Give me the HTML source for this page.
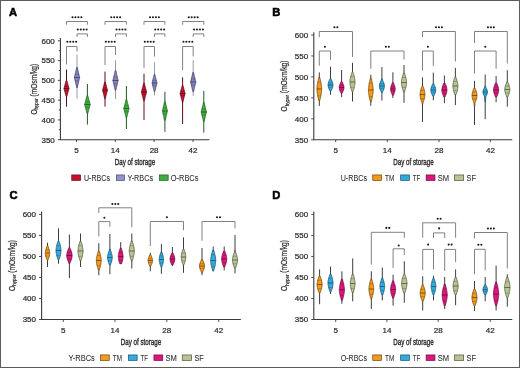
<!DOCTYPE html><html><head><meta charset="utf-8"><style>html,body{margin:0;padding:0;background:#fff;overflow:hidden;}svg{display:block;will-change:transform;}text{font-family:"Liberation Sans",sans-serif;stroke:#2b2b2b;stroke-width:0.22px;}</style></head><body>
<svg width="520" height="368" viewBox="0 0 520 368">
<rect x="0" y="0" width="520" height="368" fill="#fff"/>
<text x="9.00" y="16.20" font-size="11.2" text-anchor="start" font-weight="bold" fill="#000" style="stroke:#000;stroke-width:0.55px">A</text>
<path d="M60.40,38.00 L60.40,139.70 L209.40,139.70" fill="none" stroke="#3a3a3a" stroke-width="1.1"/>
<line x1="57.80" y1="139.70" x2="60.40" y2="139.70" stroke="#3a3a3a" stroke-width="0.9"/>
<text x="54.80" y="142.50" font-size="8" text-anchor="end" font-weight="normal" fill="#2b2b2b" >350</text>
<line x1="57.80" y1="119.92" x2="60.40" y2="119.92" stroke="#3a3a3a" stroke-width="0.9"/>
<text x="54.80" y="122.72" font-size="8" text-anchor="end" font-weight="normal" fill="#2b2b2b" >400</text>
<line x1="57.80" y1="100.14" x2="60.40" y2="100.14" stroke="#3a3a3a" stroke-width="0.9"/>
<text x="54.80" y="102.94" font-size="8" text-anchor="end" font-weight="normal" fill="#2b2b2b" >450</text>
<line x1="57.80" y1="80.36" x2="60.40" y2="80.36" stroke="#3a3a3a" stroke-width="0.9"/>
<text x="54.80" y="83.16" font-size="8" text-anchor="end" font-weight="normal" fill="#2b2b2b" >500</text>
<line x1="57.80" y1="60.58" x2="60.40" y2="60.58" stroke="#3a3a3a" stroke-width="0.9"/>
<text x="54.80" y="63.38" font-size="8" text-anchor="end" font-weight="normal" fill="#2b2b2b" >550</text>
<line x1="57.80" y1="40.80" x2="60.40" y2="40.80" stroke="#3a3a3a" stroke-width="0.9"/>
<text x="54.80" y="43.60" font-size="8" text-anchor="end" font-weight="normal" fill="#2b2b2b" >600</text>
<line x1="58.80" y1="129.81" x2="60.40" y2="129.81" stroke="#3a3a3a" stroke-width="0.9"/>
<line x1="58.80" y1="110.03" x2="60.40" y2="110.03" stroke="#3a3a3a" stroke-width="0.9"/>
<line x1="58.80" y1="90.25" x2="60.40" y2="90.25" stroke="#3a3a3a" stroke-width="0.9"/>
<line x1="58.80" y1="70.47" x2="60.40" y2="70.47" stroke="#3a3a3a" stroke-width="0.9"/>
<line x1="58.80" y1="50.69" x2="60.40" y2="50.69" stroke="#3a3a3a" stroke-width="0.9"/>
<line x1="76.50" y1="139.70" x2="76.50" y2="142.10" stroke="#3a3a3a" stroke-width="0.9"/>
<text x="76.50" y="152.70" font-size="8" text-anchor="middle" font-weight="normal" fill="#2b2b2b" >5</text>
<line x1="115.30" y1="139.70" x2="115.30" y2="142.10" stroke="#3a3a3a" stroke-width="0.9"/>
<text x="115.30" y="152.70" font-size="8" text-anchor="middle" font-weight="normal" fill="#2b2b2b" >14</text>
<line x1="154.10" y1="139.70" x2="154.10" y2="142.10" stroke="#3a3a3a" stroke-width="0.9"/>
<text x="154.10" y="152.70" font-size="8" text-anchor="middle" font-weight="normal" fill="#2b2b2b" >28</text>
<line x1="193.00" y1="139.70" x2="193.00" y2="142.10" stroke="#3a3a3a" stroke-width="0.9"/>
<text x="193.00" y="152.70" font-size="8" text-anchor="middle" font-weight="normal" fill="#2b2b2b" >42</text>
<text transform="translate(36.50,89.20) rotate(-90) scale(0.72,1)" text-anchor="middle" font-size="9.2" fill="#2b2b2b">O<tspan font-size="6.2" dy="1.9">hyper</tspan><tspan dy="-1.9"> (mOsm/kg)</tspan></text>
<text x="114.80" y="165.30" font-size="9.8" font-weight="normal" style="stroke-width:0.4px" fill="#2b2b2b" textLength="40.4" lengthAdjust="spacingAndGlyphs">Day of storage</text>
<text x="272.30" y="16.30" font-size="11.2" text-anchor="start" font-weight="bold" fill="#000" style="stroke:#000;stroke-width:0.55px">B</text>
<path d="M313.80,32.20 L313.80,139.80 L512.30,139.80" fill="none" stroke="#3a3a3a" stroke-width="1.1"/>
<line x1="311.20" y1="139.80" x2="313.80" y2="139.80" stroke="#3a3a3a" stroke-width="0.9"/>
<text x="308.20" y="142.60" font-size="8" text-anchor="end" font-weight="normal" fill="#2b2b2b" >350</text>
<line x1="311.20" y1="118.84" x2="313.80" y2="118.84" stroke="#3a3a3a" stroke-width="0.9"/>
<text x="308.20" y="121.64" font-size="8" text-anchor="end" font-weight="normal" fill="#2b2b2b" >400</text>
<line x1="311.20" y1="97.88" x2="313.80" y2="97.88" stroke="#3a3a3a" stroke-width="0.9"/>
<text x="308.20" y="100.68" font-size="8" text-anchor="end" font-weight="normal" fill="#2b2b2b" >450</text>
<line x1="311.20" y1="76.92" x2="313.80" y2="76.92" stroke="#3a3a3a" stroke-width="0.9"/>
<text x="308.20" y="79.72" font-size="8" text-anchor="end" font-weight="normal" fill="#2b2b2b" >500</text>
<line x1="311.20" y1="55.96" x2="313.80" y2="55.96" stroke="#3a3a3a" stroke-width="0.9"/>
<text x="308.20" y="58.76" font-size="8" text-anchor="end" font-weight="normal" fill="#2b2b2b" >550</text>
<line x1="311.20" y1="35.00" x2="313.80" y2="35.00" stroke="#3a3a3a" stroke-width="0.9"/>
<text x="308.20" y="37.80" font-size="8" text-anchor="end" font-weight="normal" fill="#2b2b2b" >600</text>
<line x1="335.70" y1="139.80" x2="335.70" y2="142.20" stroke="#3a3a3a" stroke-width="0.9"/>
<text x="335.70" y="152.80" font-size="8" text-anchor="middle" font-weight="normal" fill="#2b2b2b" >5</text>
<line x1="387.30" y1="139.80" x2="387.30" y2="142.20" stroke="#3a3a3a" stroke-width="0.9"/>
<text x="387.30" y="152.80" font-size="8" text-anchor="middle" font-weight="normal" fill="#2b2b2b" >14</text>
<line x1="439.00" y1="139.80" x2="439.00" y2="142.20" stroke="#3a3a3a" stroke-width="0.9"/>
<text x="439.00" y="152.80" font-size="8" text-anchor="middle" font-weight="normal" fill="#2b2b2b" >28</text>
<line x1="490.40" y1="139.80" x2="490.40" y2="142.20" stroke="#3a3a3a" stroke-width="0.9"/>
<text x="490.40" y="152.80" font-size="8" text-anchor="middle" font-weight="normal" fill="#2b2b2b" >42</text>
<text transform="translate(287.20,86.00) rotate(-90) scale(0.72,1)" text-anchor="middle" font-size="9.2" fill="#2b2b2b">O<tspan font-size="6.2" dy="1.9">hyper</tspan><tspan dy="-1.9"> (mOsm/kg)</tspan></text>
<text x="393.30" y="165.30" font-size="9.8" font-weight="normal" style="stroke-width:0.4px" fill="#2b2b2b" textLength="40.4" lengthAdjust="spacingAndGlyphs">Day of storage</text>
<text x="9.60" y="198.70" font-size="11.2" text-anchor="start" font-weight="bold" fill="#000" style="stroke:#000;stroke-width:0.55px">C</text>
<path d="M41.60,211.60 L41.60,319.50 L240.90,319.50" fill="none" stroke="#3a3a3a" stroke-width="1.1"/>
<line x1="39.00" y1="319.50" x2="41.60" y2="319.50" stroke="#3a3a3a" stroke-width="0.9"/>
<text x="36.00" y="322.30" font-size="8" text-anchor="end" font-weight="normal" fill="#2b2b2b" >350</text>
<line x1="39.00" y1="298.48" x2="41.60" y2="298.48" stroke="#3a3a3a" stroke-width="0.9"/>
<text x="36.00" y="301.28" font-size="8" text-anchor="end" font-weight="normal" fill="#2b2b2b" >400</text>
<line x1="39.00" y1="277.46" x2="41.60" y2="277.46" stroke="#3a3a3a" stroke-width="0.9"/>
<text x="36.00" y="280.26" font-size="8" text-anchor="end" font-weight="normal" fill="#2b2b2b" >450</text>
<line x1="39.00" y1="256.44" x2="41.60" y2="256.44" stroke="#3a3a3a" stroke-width="0.9"/>
<text x="36.00" y="259.24" font-size="8" text-anchor="end" font-weight="normal" fill="#2b2b2b" >500</text>
<line x1="39.00" y1="235.42" x2="41.60" y2="235.42" stroke="#3a3a3a" stroke-width="0.9"/>
<text x="36.00" y="238.22" font-size="8" text-anchor="end" font-weight="normal" fill="#2b2b2b" >550</text>
<line x1="39.00" y1="214.40" x2="41.60" y2="214.40" stroke="#3a3a3a" stroke-width="0.9"/>
<text x="36.00" y="217.20" font-size="8" text-anchor="end" font-weight="normal" fill="#2b2b2b" >600</text>
<line x1="63.30" y1="319.50" x2="63.30" y2="321.90" stroke="#3a3a3a" stroke-width="0.9"/>
<text x="63.30" y="332.50" font-size="8" text-anchor="middle" font-weight="normal" fill="#2b2b2b" >5</text>
<line x1="115.00" y1="319.50" x2="115.00" y2="321.90" stroke="#3a3a3a" stroke-width="0.9"/>
<text x="115.00" y="332.50" font-size="8" text-anchor="middle" font-weight="normal" fill="#2b2b2b" >14</text>
<line x1="166.80" y1="319.50" x2="166.80" y2="321.90" stroke="#3a3a3a" stroke-width="0.9"/>
<text x="166.80" y="332.50" font-size="8" text-anchor="middle" font-weight="normal" fill="#2b2b2b" >28</text>
<line x1="218.70" y1="319.50" x2="218.70" y2="321.90" stroke="#3a3a3a" stroke-width="0.9"/>
<text x="218.70" y="332.50" font-size="8" text-anchor="middle" font-weight="normal" fill="#2b2b2b" >42</text>
<text transform="translate(14.50,265.50) rotate(-90) scale(0.72,1)" text-anchor="middle" font-size="9.2" fill="#2b2b2b">O<tspan font-size="6.2" dy="1.9">hyper</tspan><tspan dy="-1.9"> (mOsm/kg)</tspan></text>
<text x="120.80" y="345.30" font-size="9.8" font-weight="normal" style="stroke-width:0.4px" fill="#2b2b2b" textLength="40.4" lengthAdjust="spacingAndGlyphs">Day of storage</text>
<text x="272.30" y="198.60" font-size="11.2" text-anchor="start" font-weight="bold" fill="#000" style="stroke:#000;stroke-width:0.55px">D</text>
<path d="M313.80,211.60 L313.80,319.50 L512.30,319.50" fill="none" stroke="#3a3a3a" stroke-width="1.1"/>
<line x1="311.20" y1="319.50" x2="313.80" y2="319.50" stroke="#3a3a3a" stroke-width="0.9"/>
<text x="308.20" y="322.30" font-size="8" text-anchor="end" font-weight="normal" fill="#2b2b2b" >350</text>
<line x1="311.20" y1="298.48" x2="313.80" y2="298.48" stroke="#3a3a3a" stroke-width="0.9"/>
<text x="308.20" y="301.28" font-size="8" text-anchor="end" font-weight="normal" fill="#2b2b2b" >400</text>
<line x1="311.20" y1="277.46" x2="313.80" y2="277.46" stroke="#3a3a3a" stroke-width="0.9"/>
<text x="308.20" y="280.26" font-size="8" text-anchor="end" font-weight="normal" fill="#2b2b2b" >450</text>
<line x1="311.20" y1="256.44" x2="313.80" y2="256.44" stroke="#3a3a3a" stroke-width="0.9"/>
<text x="308.20" y="259.24" font-size="8" text-anchor="end" font-weight="normal" fill="#2b2b2b" >500</text>
<line x1="311.20" y1="235.42" x2="313.80" y2="235.42" stroke="#3a3a3a" stroke-width="0.9"/>
<text x="308.20" y="238.22" font-size="8" text-anchor="end" font-weight="normal" fill="#2b2b2b" >550</text>
<line x1="311.20" y1="214.40" x2="313.80" y2="214.40" stroke="#3a3a3a" stroke-width="0.9"/>
<text x="308.20" y="217.20" font-size="8" text-anchor="end" font-weight="normal" fill="#2b2b2b" >600</text>
<line x1="335.70" y1="319.50" x2="335.70" y2="321.90" stroke="#3a3a3a" stroke-width="0.9"/>
<text x="335.70" y="332.50" font-size="8" text-anchor="middle" font-weight="normal" fill="#2b2b2b" >5</text>
<line x1="386.90" y1="319.50" x2="386.90" y2="321.90" stroke="#3a3a3a" stroke-width="0.9"/>
<text x="386.90" y="332.50" font-size="8" text-anchor="middle" font-weight="normal" fill="#2b2b2b" >14</text>
<line x1="438.20" y1="319.50" x2="438.20" y2="321.90" stroke="#3a3a3a" stroke-width="0.9"/>
<text x="438.20" y="332.50" font-size="8" text-anchor="middle" font-weight="normal" fill="#2b2b2b" >28</text>
<line x1="490.30" y1="319.50" x2="490.30" y2="321.90" stroke="#3a3a3a" stroke-width="0.9"/>
<text x="490.30" y="332.50" font-size="8" text-anchor="middle" font-weight="normal" fill="#2b2b2b" >42</text>
<text transform="translate(286.70,265.50) rotate(-90) scale(0.72,1)" text-anchor="middle" font-size="9.2" fill="#2b2b2b">O<tspan font-size="6.2" dy="1.9">hyper</tspan><tspan dy="-1.9"> (mOsm/kg)</tspan></text>
<text x="393.30" y="345.30" font-size="9.8" font-weight="normal" style="stroke-width:0.4px" fill="#2b2b2b" textLength="40.4" lengthAdjust="spacingAndGlyphs">Day of storage</text>
<path d="M66.50,24.70 L66.50,21.50 L87.40,21.50 L87.40,24.70" fill="none" stroke="#7a7a7a" stroke-width="0.95"/>
<circle cx="72.53" cy="17.30" r="1.05" fill="#1a1a1a"/>
<circle cx="75.48" cy="17.30" r="1.05" fill="#1a1a1a"/>
<circle cx="78.43" cy="17.30" r="1.05" fill="#1a1a1a"/>
<circle cx="81.38" cy="17.30" r="1.05" fill="#1a1a1a"/>
<path d="M77.00,36.90 L77.00,33.90 L87.40,33.90 L87.40,36.90" fill="none" stroke="#7a7a7a" stroke-width="0.95"/>
<circle cx="77.78" cy="29.50" r="1.05" fill="#1a1a1a"/>
<circle cx="80.73" cy="29.50" r="1.05" fill="#1a1a1a"/>
<circle cx="83.68" cy="29.50" r="1.05" fill="#1a1a1a"/>
<circle cx="86.62" cy="29.50" r="1.05" fill="#1a1a1a"/>
<path d="M66.50,64.40 L66.50,46.50 L77.00,46.50 L77.00,51.40" fill="none" stroke="#7a7a7a" stroke-width="0.95"/>
<circle cx="67.33" cy="41.80" r="1.05" fill="#1a1a1a"/>
<circle cx="70.28" cy="41.80" r="1.05" fill="#1a1a1a"/>
<circle cx="73.23" cy="41.80" r="1.05" fill="#1a1a1a"/>
<circle cx="76.18" cy="41.80" r="1.05" fill="#1a1a1a"/>
<path d="M105.00,24.70 L105.00,21.50 L126.40,21.50 L126.40,24.70" fill="none" stroke="#7a7a7a" stroke-width="0.95"/>
<circle cx="111.28" cy="17.30" r="1.05" fill="#1a1a1a"/>
<circle cx="114.23" cy="17.30" r="1.05" fill="#1a1a1a"/>
<circle cx="117.18" cy="17.30" r="1.05" fill="#1a1a1a"/>
<circle cx="120.12" cy="17.30" r="1.05" fill="#1a1a1a"/>
<path d="M115.50,36.90 L115.50,33.90 L126.40,33.90 L126.40,36.90" fill="none" stroke="#7a7a7a" stroke-width="0.95"/>
<circle cx="116.53" cy="29.50" r="1.05" fill="#1a1a1a"/>
<circle cx="119.48" cy="29.50" r="1.05" fill="#1a1a1a"/>
<circle cx="122.43" cy="29.50" r="1.05" fill="#1a1a1a"/>
<circle cx="125.38" cy="29.50" r="1.05" fill="#1a1a1a"/>
<path d="M105.00,65.00 L105.00,46.50 L115.50,46.50 L115.50,55.00" fill="none" stroke="#7a7a7a" stroke-width="0.95"/>
<circle cx="105.83" cy="41.80" r="1.05" fill="#1a1a1a"/>
<circle cx="108.78" cy="41.80" r="1.05" fill="#1a1a1a"/>
<circle cx="111.73" cy="41.80" r="1.05" fill="#1a1a1a"/>
<circle cx="114.68" cy="41.80" r="1.05" fill="#1a1a1a"/>
<path d="M144.00,24.70 L144.00,21.50 L164.90,21.50 L164.90,24.70" fill="none" stroke="#7a7a7a" stroke-width="0.95"/>
<circle cx="150.02" cy="17.30" r="1.05" fill="#1a1a1a"/>
<circle cx="152.97" cy="17.30" r="1.05" fill="#1a1a1a"/>
<circle cx="155.92" cy="17.30" r="1.05" fill="#1a1a1a"/>
<circle cx="158.87" cy="17.30" r="1.05" fill="#1a1a1a"/>
<path d="M154.50,36.90 L154.50,33.90 L164.90,33.90 L164.90,36.90" fill="none" stroke="#7a7a7a" stroke-width="0.95"/>
<circle cx="155.27" cy="29.50" r="1.05" fill="#1a1a1a"/>
<circle cx="158.22" cy="29.50" r="1.05" fill="#1a1a1a"/>
<circle cx="161.17" cy="29.50" r="1.05" fill="#1a1a1a"/>
<circle cx="164.12" cy="29.50" r="1.05" fill="#1a1a1a"/>
<path d="M144.00,68.00 L144.00,46.50 L154.50,46.50 L154.50,56.50" fill="none" stroke="#7a7a7a" stroke-width="0.95"/>
<circle cx="144.82" cy="41.80" r="1.05" fill="#1a1a1a"/>
<circle cx="147.77" cy="41.80" r="1.05" fill="#1a1a1a"/>
<circle cx="150.72" cy="41.80" r="1.05" fill="#1a1a1a"/>
<circle cx="153.67" cy="41.80" r="1.05" fill="#1a1a1a"/>
<path d="M182.60,24.70 L182.60,21.50 L203.80,21.50 L203.80,24.70" fill="none" stroke="#7a7a7a" stroke-width="0.95"/>
<circle cx="188.77" cy="17.30" r="1.05" fill="#1a1a1a"/>
<circle cx="191.72" cy="17.30" r="1.05" fill="#1a1a1a"/>
<circle cx="194.67" cy="17.30" r="1.05" fill="#1a1a1a"/>
<circle cx="197.62" cy="17.30" r="1.05" fill="#1a1a1a"/>
<path d="M193.20,36.90 L193.20,33.90 L203.80,33.90 L203.80,36.90" fill="none" stroke="#7a7a7a" stroke-width="0.95"/>
<circle cx="194.07" cy="29.50" r="1.05" fill="#1a1a1a"/>
<circle cx="197.02" cy="29.50" r="1.05" fill="#1a1a1a"/>
<circle cx="199.97" cy="29.50" r="1.05" fill="#1a1a1a"/>
<circle cx="202.92" cy="29.50" r="1.05" fill="#1a1a1a"/>
<path d="M182.60,70.00 L182.60,46.50 L193.20,46.50 L193.20,56.50" fill="none" stroke="#7a7a7a" stroke-width="0.95"/>
<circle cx="183.47" cy="41.80" r="1.05" fill="#1a1a1a"/>
<circle cx="186.42" cy="41.80" r="1.05" fill="#1a1a1a"/>
<circle cx="189.37" cy="41.80" r="1.05" fill="#1a1a1a"/>
<circle cx="192.32" cy="41.80" r="1.05" fill="#1a1a1a"/>
<path d="M319.30,37.30 L319.30,31.50 L352.50,31.50 L352.50,57.00" fill="none" stroke="#7a7a7a" stroke-width="0.95"/>
<circle cx="334.42" cy="27.20" r="1.05" fill="#1a1a1a"/>
<circle cx="337.37" cy="27.20" r="1.05" fill="#1a1a1a"/>
<path d="M319.30,65.70 L319.30,51.00 L330.50,51.00 L330.50,59.90" fill="none" stroke="#7a7a7a" stroke-width="0.95"/>
<circle cx="324.90" cy="46.70" r="1.05" fill="#1a1a1a"/>
<path d="M370.80,68.80 L370.80,51.00 L404.00,51.00 L404.00,59.60" fill="none" stroke="#7a7a7a" stroke-width="0.95"/>
<circle cx="385.92" cy="46.80" r="1.05" fill="#1a1a1a"/>
<circle cx="388.87" cy="46.80" r="1.05" fill="#1a1a1a"/>
<path d="M422.50,37.00 L422.50,31.50 L455.40,31.50 L455.40,61.50" fill="none" stroke="#7a7a7a" stroke-width="0.95"/>
<circle cx="436.00" cy="27.20" r="1.05" fill="#1a1a1a"/>
<circle cx="438.95" cy="27.20" r="1.05" fill="#1a1a1a"/>
<circle cx="441.90" cy="27.20" r="1.05" fill="#1a1a1a"/>
<path d="M422.50,70.70 L422.50,51.00 L433.30,51.00 L433.30,65.90" fill="none" stroke="#7a7a7a" stroke-width="0.95"/>
<circle cx="427.90" cy="46.70" r="1.05" fill="#1a1a1a"/>
<path d="M474.50,43.00 L474.50,31.50 L507.30,31.50 L507.30,63.50" fill="none" stroke="#7a7a7a" stroke-width="0.95"/>
<circle cx="487.95" cy="27.20" r="1.05" fill="#1a1a1a"/>
<circle cx="490.90" cy="27.20" r="1.05" fill="#1a1a1a"/>
<circle cx="493.85" cy="27.20" r="1.05" fill="#1a1a1a"/>
<path d="M474.50,73.60 L474.50,51.00 L496.10,51.00 L496.10,68.75" fill="none" stroke="#7a7a7a" stroke-width="0.95"/>
<circle cx="485.30" cy="46.70" r="1.05" fill="#1a1a1a"/>
<path d="M98.80,212.90 L98.80,207.80 L131.80,207.80 L131.80,227.30" fill="none" stroke="#7a7a7a" stroke-width="0.95"/>
<circle cx="112.35" cy="204.00" r="1.05" fill="#1a1a1a"/>
<circle cx="115.30" cy="204.00" r="1.05" fill="#1a1a1a"/>
<circle cx="118.25" cy="204.00" r="1.05" fill="#1a1a1a"/>
<path d="M98.80,236.40 L98.80,221.60 L109.90,221.60 L109.90,226.80" fill="none" stroke="#7a7a7a" stroke-width="0.95"/>
<circle cx="104.35" cy="217.70" r="1.05" fill="#1a1a1a"/>
<path d="M150.30,246.00 L150.30,221.50 L183.50,221.50 L183.50,230.20" fill="none" stroke="#7a7a7a" stroke-width="0.95"/>
<circle cx="166.90" cy="217.20" r="1.05" fill="#1a1a1a"/>
<path d="M202.00,240.80 L202.00,221.50 L235.00,221.50 L235.00,228.30" fill="none" stroke="#7a7a7a" stroke-width="0.95"/>
<circle cx="217.03" cy="217.20" r="1.05" fill="#1a1a1a"/>
<circle cx="219.97" cy="217.20" r="1.05" fill="#1a1a1a"/>
<path d="M371.30,264.60 L371.30,232.30 L404.30,232.30 L404.30,237.80" fill="none" stroke="#7a7a7a" stroke-width="0.95"/>
<circle cx="386.32" cy="227.90" r="1.05" fill="#1a1a1a"/>
<circle cx="389.27" cy="227.90" r="1.05" fill="#1a1a1a"/>
<path d="M393.10,268.00 L393.10,248.80 L404.30,248.80 L404.30,255.00" fill="none" stroke="#7a7a7a" stroke-width="0.95"/>
<circle cx="398.70" cy="245.50" r="1.05" fill="#1a1a1a"/>
<path d="M422.70,237.70 L422.70,222.80 L455.60,222.80 L455.60,237.70" fill="none" stroke="#7a7a7a" stroke-width="0.95"/>
<circle cx="437.67" cy="218.75" r="1.05" fill="#1a1a1a"/>
<circle cx="440.62" cy="218.75" r="1.05" fill="#1a1a1a"/>
<path d="M433.50,238.00 L433.50,232.90 L444.70,232.90 L444.70,238.00" fill="none" stroke="#7a7a7a" stroke-width="0.95"/>
<circle cx="439.10" cy="228.40" r="1.05" fill="#1a1a1a"/>
<path d="M422.70,270.00 L422.70,249.40 L433.50,249.40 L433.50,269.40" fill="none" stroke="#7a7a7a" stroke-width="0.95"/>
<circle cx="428.10" cy="244.60" r="1.05" fill="#1a1a1a"/>
<path d="M444.70,270.90 L444.70,249.40 L455.60,249.40 L455.60,262.20" fill="none" stroke="#7a7a7a" stroke-width="0.95"/>
<circle cx="448.67" cy="244.60" r="1.05" fill="#1a1a1a"/>
<circle cx="451.62" cy="244.60" r="1.05" fill="#1a1a1a"/>
<path d="M474.50,238.30 L474.50,232.50 L507.30,232.50 L507.30,268.50" fill="none" stroke="#7a7a7a" stroke-width="0.95"/>
<circle cx="487.95" cy="228.50" r="1.05" fill="#1a1a1a"/>
<circle cx="490.90" cy="228.50" r="1.05" fill="#1a1a1a"/>
<circle cx="493.85" cy="228.50" r="1.05" fill="#1a1a1a"/>
<path d="M474.50,274.20 L474.50,249.30 L485.20,249.30 L485.20,270.40" fill="none" stroke="#7a7a7a" stroke-width="0.95"/>
<circle cx="478.38" cy="244.80" r="1.05" fill="#1a1a1a"/>
<circle cx="481.32" cy="244.80" r="1.05" fill="#1a1a1a"/>
<line x1="66.50" y1="69.50" x2="66.50" y2="106.60" stroke="#5a0a14" stroke-width="1.0"/>
<polygon points="66.89,80.50 67.02,81.00 67.15,81.50 67.28,82.00 67.41,82.50 67.54,83.00 67.68,83.50 67.81,84.00 67.95,84.50 68.08,85.00 68.22,85.50 68.35,86.00 68.49,86.50 68.63,87.00 68.78,87.50 68.92,88.00 69.08,88.50 68.92,89.00 68.78,89.50 68.63,90.00 68.49,90.50 68.35,91.00 68.22,91.50 68.08,92.00 67.95,92.50 67.81,93.00 67.68,93.50 67.54,94.00 67.41,94.50 67.28,95.00 67.15,95.50 67.02,96.00 66.89,96.50 66.11,96.50 65.98,96.00 65.85,95.50 65.72,95.00 65.59,94.50 65.46,94.00 65.32,93.50 65.19,93.00 65.05,92.50 64.92,92.00 64.78,91.50 64.65,91.00 64.51,90.50 64.37,90.00 64.22,89.50 64.08,89.00 63.92,88.50 64.08,88.00 64.22,87.50 64.37,87.00 64.51,86.50 64.65,86.00 64.78,85.50 64.92,85.00 65.05,84.50 65.19,84.00 65.32,83.50 65.46,83.00 65.59,82.50 65.72,82.00 65.85,81.50 65.98,81.00 66.11,80.50" fill="#c8102e" stroke="#5a0a14" stroke-width="0.75" stroke-linejoin="round"/>
<line x1="63.92" y1="88.50" x2="69.08" y2="88.50" stroke="#5a0a14" stroke-width="0.8"/>
<line x1="64.51" y1="86.50" x2="68.49" y2="86.50" stroke="#5a0a14" stroke-width="0.6" stroke-opacity="0.85" stroke-dasharray="1.2,0.5"/>
<line x1="64.51" y1="90.50" x2="68.49" y2="90.50" stroke="#5a0a14" stroke-width="0.6" stroke-opacity="0.85" stroke-dasharray="1.2,0.5"/>
<line x1="77.00" y1="54.50" x2="77.00" y2="98.50" stroke="#9a9aa8" stroke-width="1.0"/>
<polygon points="77.33,67.50 77.44,68.00 77.55,68.50 77.67,69.00 77.78,69.50 77.89,70.00 78.00,70.50 78.12,71.00 78.23,71.50 78.34,72.00 78.46,72.50 78.57,73.00 78.69,73.50 78.80,74.00 78.92,74.50 79.04,75.00 79.16,75.50 79.28,76.00 79.40,76.50 79.53,77.00 79.67,77.50 79.53,78.00 79.40,78.50 79.28,79.00 79.16,79.50 79.04,80.00 78.92,80.50 78.80,81.00 78.69,81.50 78.57,82.00 78.46,82.50 78.34,83.00 78.23,83.50 78.12,84.00 78.00,84.50 77.89,85.00 77.78,85.50 77.67,86.00 77.55,86.50 77.44,87.00 77.33,87.50 76.67,87.50 76.56,87.00 76.45,86.50 76.33,86.00 76.22,85.50 76.11,85.00 76.00,84.50 75.88,84.00 75.77,83.50 75.66,83.00 75.54,82.50 75.43,82.00 75.31,81.50 75.20,81.00 75.08,80.50 74.96,80.00 74.84,79.50 74.72,79.00 74.60,78.50 74.47,78.00 74.33,77.50 74.47,77.00 74.60,76.50 74.72,76.00 74.84,75.50 74.96,75.00 75.08,74.50 75.20,74.00 75.31,73.50 75.43,73.00 75.54,72.50 75.66,72.00 75.77,71.50 75.88,71.00 76.00,70.50 76.11,70.00 76.22,69.50 76.33,69.00 76.45,68.50 76.56,68.00 76.67,67.50" fill="#8585bd" stroke="#38385e" stroke-width="0.75" stroke-linejoin="round"/>
<line x1="74.33" y1="77.50" x2="79.67" y2="77.50" stroke="#38385e" stroke-width="0.8"/>
<line x1="75.18" y1="74.08" x2="78.82" y2="74.08" stroke="#38385e" stroke-width="0.6" stroke-opacity="0.85" stroke-dasharray="1.2,0.5"/>
<line x1="75.18" y1="80.92" x2="78.82" y2="80.92" stroke="#38385e" stroke-width="0.6" stroke-opacity="0.85" stroke-dasharray="1.2,0.5"/>
<line x1="87.40" y1="84.00" x2="87.40" y2="124.60" stroke="#1d5a1d" stroke-width="1.0"/>
<polygon points="87.79,95.50 87.92,96.00 88.05,96.50 88.18,97.00 88.31,97.50 88.44,98.00 88.57,98.50 88.70,99.00 88.84,99.50 88.97,100.00 89.10,100.50 89.24,101.00 89.37,101.50 89.51,102.00 89.65,102.50 89.79,103.00 89.93,103.50 90.08,104.00 90.24,104.50 90.08,105.00 89.93,105.50 89.79,106.00 89.65,106.50 89.51,107.00 89.37,107.50 89.24,108.00 89.10,108.50 88.97,109.00 88.84,109.50 88.70,110.00 88.57,110.50 88.44,111.00 88.31,111.50 88.18,112.00 88.05,112.50 87.92,113.00 87.79,113.50 87.01,113.50 86.88,113.00 86.75,112.50 86.62,112.00 86.49,111.50 86.36,111.00 86.23,110.50 86.10,110.00 85.96,109.50 85.83,109.00 85.70,108.50 85.56,108.00 85.43,107.50 85.29,107.00 85.15,106.50 85.01,106.00 84.87,105.50 84.72,105.00 84.56,104.50 84.72,104.00 84.87,103.50 85.01,103.00 85.15,102.50 85.29,102.00 85.43,101.50 85.56,101.00 85.70,100.50 85.83,100.00 85.96,99.50 86.10,99.00 86.23,98.50 86.36,98.00 86.49,97.50 86.62,97.00 86.75,96.50 86.88,96.00 87.01,95.50" fill="#3fae3f" stroke="#1d5a1d" stroke-width="0.75" stroke-linejoin="round"/>
<line x1="84.56" y1="104.50" x2="90.24" y2="104.50" stroke="#1d5a1d" stroke-width="0.8"/>
<line x1="85.33" y1="101.84" x2="89.47" y2="101.84" stroke="#1d5a1d" stroke-width="0.6" stroke-opacity="0.85" stroke-dasharray="1.2,0.5"/>
<line x1="85.33" y1="107.16" x2="89.47" y2="107.16" stroke="#1d5a1d" stroke-width="0.6" stroke-opacity="0.85" stroke-dasharray="1.2,0.5"/>
<line x1="105.00" y1="71.60" x2="105.00" y2="106.60" stroke="#5a0a14" stroke-width="1.0"/>
<polygon points="105.39,82.10 105.51,82.60 105.64,83.10 105.76,83.60 105.88,84.10 106.01,84.60 106.13,85.10 106.26,85.60 106.39,86.10 106.51,86.60 106.64,87.10 106.77,87.60 106.90,88.10 107.03,88.60 107.17,89.10 107.30,89.60 107.45,90.10 107.39,90.60 107.25,91.10 107.11,91.60 106.98,92.10 106.85,92.60 106.72,93.10 106.59,93.60 106.46,94.10 106.34,94.60 106.21,95.10 106.08,95.60 105.96,96.10 105.83,96.60 105.71,97.10 105.59,97.60 105.46,98.10 105.34,98.60 104.66,98.60 104.54,98.10 104.41,97.60 104.29,97.10 104.17,96.60 104.04,96.10 103.92,95.60 103.79,95.10 103.66,94.60 103.54,94.10 103.41,93.60 103.28,93.10 103.15,92.60 103.02,92.10 102.89,91.60 102.75,91.10 102.61,90.60 102.55,90.10 102.70,89.60 102.83,89.10 102.97,88.60 103.10,88.10 103.23,87.60 103.36,87.10 103.49,86.60 103.61,86.10 103.74,85.60 103.87,85.10 103.99,84.60 104.12,84.10 104.24,83.60 104.36,83.10 104.49,82.60 104.61,82.10" fill="#c8102e" stroke="#5a0a14" stroke-width="0.75" stroke-linejoin="round"/>
<line x1="102.51" y1="90.25" x2="107.49" y2="90.25" stroke="#5a0a14" stroke-width="0.8"/>
<line x1="103.08" y1="88.16" x2="106.92" y2="88.16" stroke="#5a0a14" stroke-width="0.6" stroke-opacity="0.85" stroke-dasharray="1.2,0.5"/>
<line x1="103.08" y1="92.34" x2="106.92" y2="92.34" stroke="#5a0a14" stroke-width="0.6" stroke-opacity="0.85" stroke-dasharray="1.2,0.5"/>
<line x1="115.50" y1="60.20" x2="115.50" y2="99.00" stroke="#9a9aa8" stroke-width="1.0"/>
<polygon points="115.88,70.70 115.99,71.20 116.10,71.70 116.21,72.20 116.32,72.70 116.43,73.20 116.55,73.70 116.66,74.20 116.77,74.70 116.89,75.20 117.00,75.70 117.12,76.20 117.23,76.70 117.35,77.20 117.47,77.70 117.59,78.20 117.71,78.70 117.83,79.20 117.95,79.70 118.08,80.20 118.11,80.70 117.98,81.20 117.85,81.70 117.73,82.20 117.61,82.70 117.49,83.20 117.38,83.70 117.26,84.20 117.14,84.70 117.03,85.20 116.91,85.70 116.80,86.20 116.68,86.70 116.57,87.20 116.46,87.70 116.34,88.20 116.23,88.70 116.12,89.20 116.01,89.70 115.90,90.20 115.10,90.20 114.99,89.70 114.88,89.20 114.77,88.70 114.66,88.20 114.54,87.70 114.43,87.20 114.32,86.70 114.20,86.20 114.09,85.70 113.97,85.20 113.86,84.70 113.74,84.20 113.62,83.70 113.51,83.20 113.39,82.70 113.27,82.20 113.15,81.70 113.02,81.20 112.89,80.70 112.92,80.20 113.05,79.70 113.17,79.20 113.29,78.70 113.41,78.20 113.53,77.70 113.65,77.20 113.77,76.70 113.88,76.20 114.00,75.70 114.11,75.20 114.23,74.70 114.34,74.20 114.45,73.70 114.57,73.20 114.68,72.70 114.79,72.20 114.90,71.70 115.01,71.20 115.12,70.70" fill="#8585bd" stroke="#38385e" stroke-width="0.75" stroke-linejoin="round"/>
<line x1="112.83" y1="80.50" x2="118.17" y2="80.50" stroke="#38385e" stroke-width="0.8"/>
<line x1="113.68" y1="77.08" x2="117.32" y2="77.08" stroke="#38385e" stroke-width="0.6" stroke-opacity="0.85" stroke-dasharray="1.2,0.5"/>
<line x1="113.68" y1="83.92" x2="117.32" y2="83.92" stroke="#38385e" stroke-width="0.6" stroke-opacity="0.85" stroke-dasharray="1.2,0.5"/>
<line x1="126.40" y1="86.00" x2="126.40" y2="129.00" stroke="#1d5a1d" stroke-width="1.0"/>
<polygon points="126.76,99.50 126.88,100.00 127.01,100.50 127.13,101.00 127.25,101.50 127.38,102.00 127.50,102.50 127.62,103.00 127.75,103.50 127.87,104.00 128.00,104.50 128.13,105.00 128.26,105.50 128.38,106.00 128.51,106.50 128.65,107.00 128.78,107.50 128.92,108.00 129.07,108.50 128.92,109.00 128.78,109.50 128.65,110.00 128.51,110.50 128.38,111.00 128.26,111.50 128.13,112.00 128.00,112.50 127.87,113.00 127.75,113.50 127.62,114.00 127.50,114.50 127.38,115.00 127.25,115.50 127.13,116.00 127.01,116.50 126.88,117.00 126.76,117.50 126.04,117.50 125.92,117.00 125.79,116.50 125.67,116.00 125.55,115.50 125.42,115.00 125.30,114.50 125.18,114.00 125.05,113.50 124.93,113.00 124.80,112.50 124.67,112.00 124.54,111.50 124.42,111.00 124.29,110.50 124.15,110.00 124.02,109.50 123.88,109.00 123.73,108.50 123.88,108.00 124.02,107.50 124.15,107.00 124.29,106.50 124.42,106.00 124.54,105.50 124.67,105.00 124.80,104.50 124.93,104.00 125.05,103.50 125.18,103.00 125.30,102.50 125.42,102.00 125.55,101.50 125.67,101.00 125.79,100.50 125.92,100.00 126.04,99.50" fill="#3fae3f" stroke="#1d5a1d" stroke-width="0.75" stroke-linejoin="round"/>
<line x1="123.73" y1="108.50" x2="129.07" y2="108.50" stroke="#1d5a1d" stroke-width="0.8"/>
<line x1="124.46" y1="105.84" x2="128.34" y2="105.84" stroke="#1d5a1d" stroke-width="0.6" stroke-opacity="0.85" stroke-dasharray="1.2,0.5"/>
<line x1="124.46" y1="111.16" x2="128.34" y2="111.16" stroke="#1d5a1d" stroke-width="0.6" stroke-opacity="0.85" stroke-dasharray="1.2,0.5"/>
<line x1="144.00" y1="73.80" x2="144.00" y2="120.00" stroke="#5a0a14" stroke-width="1.0"/>
<polygon points="144.33,83.30 144.46,83.80 144.59,84.30 144.71,84.80 144.84,85.30 144.97,85.80 145.10,86.30 145.23,86.80 145.36,87.30 145.50,87.80 145.63,88.30 145.76,88.80 145.90,89.30 146.03,89.80 146.17,90.30 146.31,90.80 146.45,91.30 146.60,91.80 146.57,92.30 146.42,92.80 146.28,93.30 146.14,93.80 146.01,94.30 145.87,94.80 145.74,95.30 145.60,95.80 145.47,96.30 145.34,96.80 145.21,97.30 145.08,97.80 144.95,98.30 144.82,98.80 144.69,99.30 144.56,99.80 144.43,100.30 144.30,100.80 143.70,100.80 143.57,100.30 143.44,99.80 143.31,99.30 143.18,98.80 143.05,98.30 142.92,97.80 142.79,97.30 142.66,96.80 142.53,96.30 142.40,95.80 142.26,95.30 142.13,94.80 141.99,94.30 141.86,93.80 141.72,93.30 141.58,92.80 141.43,92.30 141.40,91.80 141.55,91.30 141.69,90.80 141.83,90.30 141.97,89.80 142.10,89.30 142.24,88.80 142.37,88.30 142.50,87.80 142.64,87.30 142.77,86.80 142.90,86.30 143.03,85.80 143.16,85.30 143.29,84.80 143.41,84.30 143.54,83.80 143.67,83.30" fill="#c8102e" stroke="#5a0a14" stroke-width="0.75" stroke-linejoin="round"/>
<line x1="141.33" y1="92.00" x2="146.67" y2="92.00" stroke="#5a0a14" stroke-width="0.8"/>
<line x1="141.99" y1="89.72" x2="146.01" y2="89.72" stroke="#5a0a14" stroke-width="0.6" stroke-opacity="0.85" stroke-dasharray="1.2,0.5"/>
<line x1="141.99" y1="94.28" x2="146.01" y2="94.28" stroke="#5a0a14" stroke-width="0.6" stroke-opacity="0.85" stroke-dasharray="1.2,0.5"/>
<line x1="154.50" y1="62.00" x2="154.50" y2="95.50" stroke="#9a9aa8" stroke-width="1.0"/>
<polygon points="154.86,74.50 154.98,75.00 155.10,75.50 155.22,76.00 155.34,76.50 155.46,77.00 155.58,77.50 155.70,78.00 155.83,78.50 155.95,79.00 156.07,79.50 156.20,80.00 156.33,80.50 156.45,81.00 156.58,81.50 156.71,82.00 156.85,82.50 156.99,83.00 156.85,83.50 156.71,84.00 156.58,84.50 156.45,85.00 156.33,85.50 156.20,86.00 156.07,86.50 155.95,87.00 155.83,87.50 155.70,88.00 155.58,88.50 155.46,89.00 155.34,89.50 155.22,90.00 155.10,90.50 154.98,91.00 154.86,91.50 154.14,91.50 154.02,91.00 153.90,90.50 153.78,90.00 153.66,89.50 153.54,89.00 153.42,88.50 153.30,88.00 153.17,87.50 153.05,87.00 152.93,86.50 152.80,86.00 152.67,85.50 152.55,85.00 152.42,84.50 152.29,84.00 152.15,83.50 152.01,83.00 152.15,82.50 152.29,82.00 152.42,81.50 152.55,81.00 152.67,80.50 152.80,80.00 152.93,79.50 153.05,79.00 153.17,78.50 153.30,78.00 153.42,77.50 153.54,77.00 153.66,76.50 153.78,76.00 153.90,75.50 154.02,75.00 154.14,74.50" fill="#8585bd" stroke="#38385e" stroke-width="0.75" stroke-linejoin="round"/>
<line x1="152.01" y1="83.00" x2="156.99" y2="83.00" stroke="#38385e" stroke-width="0.8"/>
<line x1="152.62" y1="80.72" x2="156.38" y2="80.72" stroke="#38385e" stroke-width="0.6" stroke-opacity="0.85" stroke-dasharray="1.2,0.5"/>
<line x1="152.62" y1="85.28" x2="156.38" y2="85.28" stroke="#38385e" stroke-width="0.6" stroke-opacity="0.85" stroke-dasharray="1.2,0.5"/>
<line x1="164.90" y1="91.80" x2="164.90" y2="131.80" stroke="#1d5a1d" stroke-width="1.0"/>
<polygon points="165.30,101.80 165.42,102.30 165.53,102.80 165.64,103.30 165.76,103.80 165.87,104.30 165.98,104.80 166.10,105.30 166.21,105.80 166.33,106.30 166.45,106.80 166.56,107.30 166.68,107.80 166.80,108.30 166.92,108.80 167.04,109.30 167.17,109.80 167.29,110.30 167.42,110.80 167.40,111.30 167.27,111.80 167.14,112.30 167.02,112.80 166.90,113.30 166.78,113.80 166.66,114.30 166.54,114.80 166.42,115.30 166.31,115.80 166.19,116.30 166.08,116.80 165.96,117.30 165.85,117.80 165.73,118.30 165.62,118.80 165.51,119.30 165.39,119.80 165.28,120.30 164.52,120.30 164.41,119.80 164.29,119.30 164.18,118.80 164.07,118.30 163.95,117.80 163.84,117.30 163.72,116.80 163.61,116.30 163.49,115.80 163.38,115.30 163.26,114.80 163.14,114.30 163.02,113.80 162.90,113.30 162.78,112.80 162.66,112.30 162.53,111.80 162.40,111.30 162.38,110.80 162.51,110.30 162.63,109.80 162.76,109.30 162.88,108.80 163.00,108.30 163.12,107.80 163.24,107.30 163.35,106.80 163.47,106.30 163.59,105.80 163.70,105.30 163.82,104.80 163.93,104.30 164.04,103.80 164.16,103.30 164.27,102.80 164.38,102.30 164.50,101.80" fill="#3fae3f" stroke="#1d5a1d" stroke-width="0.75" stroke-linejoin="round"/>
<line x1="162.32" y1="111.00" x2="167.48" y2="111.00" stroke="#1d5a1d" stroke-width="0.8"/>
<line x1="163.08" y1="107.96" x2="166.72" y2="107.96" stroke="#1d5a1d" stroke-width="0.6" stroke-opacity="0.85" stroke-dasharray="1.2,0.5"/>
<line x1="163.08" y1="114.04" x2="166.72" y2="114.04" stroke="#1d5a1d" stroke-width="0.6" stroke-opacity="0.85" stroke-dasharray="1.2,0.5"/>
<line x1="182.60" y1="77.40" x2="182.60" y2="124.00" stroke="#5a0a14" stroke-width="1.0"/>
<polygon points="182.96,85.40 183.09,85.90 183.22,86.40 183.35,86.90 183.49,87.40 183.62,87.90 183.75,88.40 183.88,88.90 184.02,89.40 184.15,89.90 184.29,90.40 184.43,90.90 184.56,91.40 184.70,91.90 184.85,92.40 184.99,92.90 185.15,93.40 185.05,93.90 184.91,94.40 184.76,94.90 184.62,95.40 184.48,95.90 184.34,96.40 184.21,96.90 184.07,97.40 183.94,97.90 183.80,98.40 183.67,98.90 183.54,99.40 183.41,99.90 183.28,100.40 183.15,100.90 183.01,101.40 182.93,101.90 182.90,102.40 182.30,102.40 182.27,101.90 182.19,101.40 182.05,100.90 181.92,100.40 181.79,99.90 181.66,99.40 181.53,98.90 181.40,98.40 181.26,97.90 181.13,97.40 180.99,96.90 180.86,96.40 180.72,95.90 180.58,95.40 180.44,94.90 180.29,94.40 180.15,93.90 180.05,93.40 180.21,92.90 180.35,92.40 180.50,91.90 180.64,91.40 180.77,90.90 180.91,90.40 181.05,89.90 181.18,89.40 181.32,88.90 181.45,88.40 181.58,87.90 181.71,87.40 181.85,86.90 181.98,86.40 182.11,85.90 182.24,85.40" fill="#c8102e" stroke="#5a0a14" stroke-width="0.75" stroke-linejoin="round"/>
<line x1="180.02" y1="93.50" x2="185.18" y2="93.50" stroke="#5a0a14" stroke-width="0.8"/>
<line x1="180.61" y1="91.50" x2="184.59" y2="91.50" stroke="#5a0a14" stroke-width="0.6" stroke-opacity="0.85" stroke-dasharray="1.2,0.5"/>
<line x1="180.61" y1="95.50" x2="184.59" y2="95.50" stroke="#5a0a14" stroke-width="0.6" stroke-opacity="0.85" stroke-dasharray="1.2,0.5"/>
<line x1="193.20" y1="60.00" x2="193.20" y2="95.80" stroke="#9a9aa8" stroke-width="1.0"/>
<polygon points="193.55,72.50 193.66,73.00 193.78,73.50 193.90,74.00 194.01,74.50 194.13,75.00 194.25,75.50 194.37,76.00 194.49,76.50 194.61,77.00 194.73,77.50 194.85,78.00 194.97,78.50 195.09,79.00 195.21,79.50 195.34,80.00 195.46,80.50 195.59,81.00 195.72,81.50 195.87,82.00 195.72,82.50 195.59,83.00 195.46,83.50 195.34,84.00 195.21,84.50 195.09,85.00 194.97,85.50 194.85,86.00 194.73,86.50 194.61,87.00 194.49,87.50 194.37,88.00 194.25,88.50 194.13,89.00 194.01,89.50 193.90,90.00 193.78,90.50 193.66,91.00 193.55,91.50 192.85,91.50 192.74,91.00 192.62,90.50 192.50,90.00 192.39,89.50 192.27,89.00 192.15,88.50 192.03,88.00 191.91,87.50 191.79,87.00 191.67,86.50 191.55,86.00 191.43,85.50 191.31,85.00 191.19,84.50 191.06,84.00 190.94,83.50 190.81,83.00 190.68,82.50 190.53,82.00 190.68,81.50 190.81,81.00 190.94,80.50 191.06,80.00 191.19,79.50 191.31,79.00 191.43,78.50 191.55,78.00 191.67,77.50 191.79,77.00 191.91,76.50 192.03,76.00 192.15,75.50 192.27,75.00 192.39,74.50 192.50,74.00 192.62,73.50 192.74,73.00 192.85,72.50" fill="#8585bd" stroke="#38385e" stroke-width="0.75" stroke-linejoin="round"/>
<line x1="190.53" y1="82.00" x2="195.87" y2="82.00" stroke="#38385e" stroke-width="0.8"/>
<line x1="191.32" y1="78.96" x2="195.08" y2="78.96" stroke="#38385e" stroke-width="0.6" stroke-opacity="0.85" stroke-dasharray="1.2,0.5"/>
<line x1="191.32" y1="85.04" x2="195.08" y2="85.04" stroke="#38385e" stroke-width="0.6" stroke-opacity="0.85" stroke-dasharray="1.2,0.5"/>
<line x1="203.80" y1="91.00" x2="203.80" y2="132.60" stroke="#1d5a1d" stroke-width="1.0"/>
<polygon points="204.15,102.50 204.26,103.00 204.38,103.50 204.50,104.00 204.61,104.50 204.73,105.00 204.85,105.50 204.97,106.00 205.09,106.50 205.21,107.00 205.33,107.50 205.45,108.00 205.57,108.50 205.69,109.00 205.81,109.50 205.94,110.00 206.06,110.50 206.19,111.00 206.32,111.50 206.47,112.00 206.32,112.50 206.19,113.00 206.06,113.50 205.94,114.00 205.81,114.50 205.69,115.00 205.57,115.50 205.45,116.00 205.33,116.50 205.21,117.00 205.09,117.50 204.97,118.00 204.85,118.50 204.73,119.00 204.61,119.50 204.50,120.00 204.38,120.50 204.26,121.00 204.15,121.50 203.45,121.50 203.34,121.00 203.22,120.50 203.10,120.00 202.99,119.50 202.87,119.00 202.75,118.50 202.63,118.00 202.51,117.50 202.39,117.00 202.27,116.50 202.15,116.00 202.03,115.50 201.91,115.00 201.79,114.50 201.66,114.00 201.54,113.50 201.41,113.00 201.28,112.50 201.13,112.00 201.28,111.50 201.41,111.00 201.54,110.50 201.66,110.00 201.79,109.50 201.91,109.00 202.03,108.50 202.15,108.00 202.27,107.50 202.39,107.00 202.51,106.50 202.63,106.00 202.75,105.50 202.87,105.00 202.99,104.50 203.10,104.00 203.22,103.50 203.34,103.00 203.45,102.50" fill="#3fae3f" stroke="#1d5a1d" stroke-width="0.75" stroke-linejoin="round"/>
<line x1="201.13" y1="112.00" x2="206.47" y2="112.00" stroke="#1d5a1d" stroke-width="0.8"/>
<line x1="201.92" y1="108.96" x2="205.68" y2="108.96" stroke="#1d5a1d" stroke-width="0.6" stroke-opacity="0.85" stroke-dasharray="1.2,0.5"/>
<line x1="201.92" y1="115.04" x2="205.68" y2="115.04" stroke="#1d5a1d" stroke-width="0.6" stroke-opacity="0.85" stroke-dasharray="1.2,0.5"/>
<line x1="319.30" y1="72.40" x2="319.30" y2="105.90" stroke="#3d3d3d" stroke-width="1.0"/>
<polygon points="319.72,77.40 319.86,77.90 320.00,78.40 320.13,78.90 320.26,79.40 320.38,79.90 320.50,80.40 320.62,80.90 320.72,81.40 320.83,81.90 320.93,82.40 321.02,82.90 321.11,83.40 321.19,83.90 321.27,84.40 321.35,84.90 321.41,85.40 321.47,85.90 321.53,86.40 321.57,86.90 321.61,87.40 321.64,87.90 321.67,88.40 321.68,88.90 321.67,89.40 321.65,89.90 321.63,90.40 321.59,90.90 321.55,91.40 321.49,91.90 321.44,92.40 321.37,92.90 321.30,93.40 321.23,93.90 321.15,94.40 321.06,94.90 320.97,95.40 320.87,95.90 320.77,96.40 320.66,96.90 320.55,97.40 320.43,97.90 320.31,98.40 320.18,98.90 320.05,99.40 319.92,99.90 319.78,100.40 319.63,100.90 318.97,100.90 318.82,100.40 318.68,99.90 318.55,99.40 318.42,98.90 318.29,98.40 318.17,97.90 318.05,97.40 317.94,96.90 317.83,96.40 317.73,95.90 317.63,95.40 317.54,94.90 317.45,94.40 317.37,93.90 317.30,93.40 317.23,92.90 317.16,92.40 317.11,91.90 317.05,91.40 317.01,90.90 316.97,90.40 316.95,89.90 316.93,89.40 316.92,88.90 316.93,88.40 316.96,87.90 316.99,87.40 317.03,86.90 317.07,86.40 317.13,85.90 317.19,85.40 317.25,84.90 317.33,84.40 317.41,83.90 317.49,83.40 317.58,82.90 317.67,82.40 317.77,81.90 317.88,81.40 317.98,80.90 318.10,80.40 318.22,79.90 318.34,79.40 318.47,78.90 318.60,78.40 318.74,77.90 318.88,77.40" fill="#f39a1c" stroke="#6a4208" stroke-width="0.75" stroke-linejoin="round"/>
<line x1="316.92" y1="89.00" x2="321.68" y2="89.00" stroke="#6a4208" stroke-width="0.8"/>
<line x1="317.72" y1="82.16" x2="320.88" y2="82.16" stroke="#6a4208" stroke-width="0.6" stroke-opacity="0.85" stroke-dasharray="1.2,0.5"/>
<line x1="317.72" y1="95.84" x2="320.88" y2="95.84" stroke="#6a4208" stroke-width="0.6" stroke-opacity="0.85" stroke-dasharray="1.2,0.5"/>
<line x1="330.50" y1="66.70" x2="330.50" y2="94.80" stroke="#3d3d3d" stroke-width="1.0"/>
<polygon points="330.81,78.20 330.90,78.70 331.17,79.20 331.43,79.70 331.67,80.20 331.89,80.70 332.09,81.20 332.28,81.70 332.45,82.20 332.59,82.70 332.72,83.20 332.82,83.70 332.90,84.20 332.95,84.70 332.96,85.20 332.92,85.70 332.84,86.20 332.74,86.70 332.62,87.20 332.48,87.70 332.31,88.20 332.13,88.70 331.93,89.20 331.71,89.70 331.48,90.20 331.23,90.70 330.96,91.20 330.04,91.20 329.77,90.70 329.52,90.20 329.29,89.70 329.07,89.20 328.87,88.70 328.69,88.20 328.52,87.70 328.38,87.20 328.26,86.70 328.16,86.20 328.08,85.70 328.04,85.20 328.05,84.70 328.10,84.20 328.18,83.70 328.28,83.20 328.41,82.70 328.55,82.20 328.72,81.70 328.91,81.20 329.11,80.70 329.33,80.20 329.57,79.70 329.83,79.20 330.10,78.70 330.19,78.20" fill="#34a9dd" stroke="#15506c" stroke-width="0.75" stroke-linejoin="round"/>
<line x1="328.04" y1="85.00" x2="332.96" y2="85.00" stroke="#15506c" stroke-width="0.8"/>
<line x1="328.40" y1="82.72" x2="332.60" y2="82.72" stroke="#15506c" stroke-width="0.6" stroke-opacity="0.85" stroke-dasharray="1.2,0.5"/>
<line x1="328.40" y1="87.28" x2="332.60" y2="87.28" stroke="#15506c" stroke-width="0.6" stroke-opacity="0.85" stroke-dasharray="1.2,0.5"/>
<line x1="341.60" y1="70.00" x2="341.60" y2="97.20" stroke="#3d3d3d" stroke-width="1.0"/>
<polygon points="341.94,81.50 342.19,82.00 342.46,82.50 342.71,83.00 342.94,83.50 343.15,84.00 343.34,84.50 343.51,85.00 343.66,85.50 343.78,86.00 343.88,86.50 343.95,87.00 343.98,87.50 343.95,88.00 343.88,88.50 343.78,89.00 343.66,89.50 343.51,90.00 343.34,90.50 343.15,91.00 342.94,91.50 342.71,92.00 342.46,92.50 342.19,93.00 341.90,93.50 341.30,93.50 341.01,93.00 340.74,92.50 340.49,92.00 340.26,91.50 340.05,91.00 339.86,90.50 339.69,90.00 339.54,89.50 339.42,89.00 339.32,88.50 339.25,88.00 339.22,87.50 339.25,87.00 339.32,86.50 339.42,86.00 339.54,85.50 339.69,85.00 339.86,84.50 340.05,84.00 340.26,83.50 340.49,83.00 340.74,82.50 341.01,82.00 341.26,81.50" fill="#e0157c" stroke="#650a36" stroke-width="0.75" stroke-linejoin="round"/>
<line x1="339.22" y1="87.50" x2="343.98" y2="87.50" stroke="#650a36" stroke-width="0.8"/>
<line x1="339.54" y1="85.50" x2="343.66" y2="85.50" stroke="#650a36" stroke-width="0.6" stroke-opacity="0.85" stroke-dasharray="1.2,0.5"/>
<line x1="339.54" y1="89.50" x2="343.66" y2="89.50" stroke="#650a36" stroke-width="0.6" stroke-opacity="0.85" stroke-dasharray="1.2,0.5"/>
<line x1="352.50" y1="62.80" x2="352.50" y2="101.50" stroke="#3d3d3d" stroke-width="1.0"/>
<polygon points="352.81,71.80 352.99,72.30 353.17,72.80 353.34,73.30 353.50,73.80 353.66,74.30 353.81,74.80 353.95,75.30 354.09,75.80 354.22,76.30 354.34,76.80 354.45,77.30 354.55,77.80 354.65,78.30 354.74,78.80 354.82,79.30 354.88,79.80 354.94,80.30 354.99,80.80 355.03,81.30 355.05,81.80 355.04,82.30 355.02,82.80 354.98,83.30 354.93,83.80 354.87,84.30 354.80,84.80 354.72,85.30 354.63,85.80 354.53,86.30 354.43,86.80 354.31,87.30 354.19,87.80 354.06,88.30 353.92,88.80 353.78,89.30 353.63,89.80 353.47,90.30 353.31,90.80 353.13,91.30 352.95,91.80 352.05,91.80 351.87,91.30 351.69,90.80 351.53,90.30 351.37,89.80 351.22,89.30 351.08,88.80 350.94,88.30 350.81,87.80 350.69,87.30 350.57,86.80 350.47,86.30 350.37,85.80 350.28,85.30 350.20,84.80 350.13,84.30 350.07,83.80 350.02,83.30 349.98,82.80 349.96,82.30 349.95,81.80 349.97,81.30 350.01,80.80 350.06,80.30 350.12,79.80 350.18,79.30 350.26,78.80 350.35,78.30 350.45,77.80 350.55,77.30 350.66,76.80 350.78,76.30 350.91,75.80 351.05,75.30 351.19,74.80 351.34,74.30 351.50,73.80 351.66,73.30 351.83,72.80 352.01,72.30 352.19,71.80" fill="#b7c596" stroke="#4d5538" stroke-width="0.75" stroke-linejoin="round"/>
<line x1="349.95" y1="82.00" x2="355.05" y2="82.00" stroke="#4d5538" stroke-width="0.8"/>
<line x1="350.69" y1="76.68" x2="354.31" y2="76.68" stroke="#4d5538" stroke-width="0.6" stroke-opacity="0.85" stroke-dasharray="1.2,0.5"/>
<line x1="350.69" y1="87.32" x2="354.31" y2="87.32" stroke="#4d5538" stroke-width="0.6" stroke-opacity="0.85" stroke-dasharray="1.2,0.5"/>
<line x1="370.80" y1="74.70" x2="370.80" y2="105.80" stroke="#3d3d3d" stroke-width="1.0"/>
<polygon points="371.16,78.20 371.30,78.70 371.44,79.20 371.58,79.70 371.71,80.20 371.83,80.70 371.95,81.20 372.07,81.70 372.18,82.20 372.29,82.70 372.39,83.20 372.49,83.70 372.58,84.20 372.66,84.70 372.74,85.20 372.82,85.70 372.89,86.20 372.95,86.70 373.00,87.20 373.05,87.70 373.10,88.20 373.13,88.70 373.16,89.20 373.18,89.70 373.18,90.20 373.16,90.70 373.14,91.20 373.11,91.70 373.06,92.20 373.02,92.70 372.96,93.20 372.90,93.70 372.83,94.20 372.76,94.70 372.68,95.20 372.59,95.70 372.50,96.20 372.41,96.70 372.31,97.20 372.20,97.70 372.09,98.20 371.98,98.70 371.86,99.20 371.73,99.70 371.60,100.20 371.47,100.70 371.33,101.20 371.19,101.70 370.41,101.70 370.27,101.20 370.13,100.70 370.00,100.20 369.87,99.70 369.74,99.20 369.62,98.70 369.51,98.20 369.40,97.70 369.29,97.20 369.19,96.70 369.10,96.20 369.01,95.70 368.92,95.20 368.84,94.70 368.77,94.20 368.70,93.70 368.64,93.20 368.58,92.70 368.54,92.20 368.49,91.70 368.46,91.20 368.44,90.70 368.42,90.20 368.42,89.70 368.44,89.20 368.47,88.70 368.50,88.20 368.55,87.70 368.60,87.20 368.65,86.70 368.71,86.20 368.78,85.70 368.86,85.20 368.94,84.70 369.02,84.20 369.11,83.70 369.21,83.20 369.31,82.70 369.42,82.20 369.53,81.70 369.65,81.20 369.77,80.70 369.89,80.20 370.02,79.70 370.16,79.20 370.30,78.70 370.44,78.20" fill="#f39a1c" stroke="#6a4208" stroke-width="0.75" stroke-linejoin="round"/>
<line x1="368.42" y1="90.00" x2="373.18" y2="90.00" stroke="#6a4208" stroke-width="0.8"/>
<line x1="369.22" y1="83.16" x2="372.38" y2="83.16" stroke="#6a4208" stroke-width="0.6" stroke-opacity="0.85" stroke-dasharray="1.2,0.5"/>
<line x1="369.22" y1="96.84" x2="372.38" y2="96.84" stroke="#6a4208" stroke-width="0.6" stroke-opacity="0.85" stroke-dasharray="1.2,0.5"/>
<line x1="381.90" y1="67.00" x2="381.90" y2="100.50" stroke="#3d3d3d" stroke-width="1.0"/>
<polygon points="382.22,79.00 382.27,79.50 382.49,80.00 382.76,80.50 383.01,81.00 383.25,81.50 383.47,82.00 383.67,82.50 383.85,83.00 384.01,83.50 384.15,84.00 384.26,84.50 384.36,85.00 384.42,85.50 384.45,86.00 384.42,86.50 384.36,87.00 384.26,87.50 384.15,88.00 384.01,88.50 383.85,89.00 383.67,89.50 383.47,90.00 383.25,90.50 383.01,91.00 382.76,91.50 382.49,92.00 382.20,92.50 381.60,92.50 381.31,92.00 381.04,91.50 380.79,91.00 380.55,90.50 380.33,90.00 380.13,89.50 379.95,89.00 379.79,88.50 379.65,88.00 379.54,87.50 379.44,87.00 379.38,86.50 379.35,86.00 379.38,85.50 379.44,85.00 379.54,84.50 379.65,84.00 379.79,83.50 379.95,83.00 380.13,82.50 380.33,82.00 380.55,81.50 380.79,81.00 381.04,80.50 381.31,80.00 381.53,79.50 381.58,79.00" fill="#34a9dd" stroke="#15506c" stroke-width="0.75" stroke-linejoin="round"/>
<line x1="379.35" y1="86.00" x2="384.45" y2="86.00" stroke="#15506c" stroke-width="0.8"/>
<line x1="379.73" y1="83.72" x2="384.07" y2="83.72" stroke="#15506c" stroke-width="0.6" stroke-opacity="0.85" stroke-dasharray="1.2,0.5"/>
<line x1="379.73" y1="88.28" x2="384.07" y2="88.28" stroke="#15506c" stroke-width="0.6" stroke-opacity="0.85" stroke-dasharray="1.2,0.5"/>
<line x1="392.90" y1="72.30" x2="392.90" y2="98.10" stroke="#3d3d3d" stroke-width="1.0"/>
<polygon points="393.33,82.80 393.58,83.30 393.81,83.80 394.03,84.30 394.23,84.80 394.42,85.30 394.59,85.80 394.74,86.30 394.87,86.80 394.99,87.30 395.08,87.80 395.15,88.30 395.19,88.80 395.18,89.30 395.14,89.80 395.06,90.30 394.97,90.80 394.85,91.30 394.71,91.80 394.56,92.30 394.38,92.80 394.19,93.30 393.99,93.80 393.76,94.30 393.53,94.80 393.28,95.30 392.52,95.30 392.27,94.80 392.04,94.30 391.81,93.80 391.61,93.30 391.42,92.80 391.24,92.30 391.09,91.80 390.95,91.30 390.83,90.80 390.74,90.30 390.66,89.80 390.62,89.30 390.61,88.80 390.65,88.30 390.72,87.80 390.81,87.30 390.93,86.80 391.06,86.30 391.21,85.80 391.38,85.30 391.57,84.80 391.77,84.30 391.99,83.80 392.22,83.30 392.47,82.80" fill="#e0157c" stroke="#650a36" stroke-width="0.75" stroke-linejoin="round"/>
<line x1="390.60" y1="89.00" x2="395.19" y2="89.00" stroke="#650a36" stroke-width="0.8"/>
<line x1="390.95" y1="86.72" x2="394.85" y2="86.72" stroke="#650a36" stroke-width="0.6" stroke-opacity="0.85" stroke-dasharray="1.2,0.5"/>
<line x1="390.95" y1="91.28" x2="394.85" y2="91.28" stroke="#650a36" stroke-width="0.6" stroke-opacity="0.85" stroke-dasharray="1.2,0.5"/>
<line x1="404.00" y1="65.00" x2="404.00" y2="102.90" stroke="#3d3d3d" stroke-width="1.0"/>
<polygon points="404.40,73.00 404.59,73.50 404.77,74.00 404.94,74.50 405.11,75.00 405.27,75.50 405.42,76.00 405.57,76.50 405.70,77.00 405.83,77.50 405.95,78.00 406.06,78.50 406.16,79.00 406.25,79.50 406.33,80.00 406.40,80.50 406.46,81.00 406.50,81.50 406.54,82.00 406.55,82.50 406.54,83.00 406.50,83.50 406.46,84.00 406.40,84.50 406.33,85.00 406.25,85.50 406.16,86.00 406.06,86.50 405.95,87.00 405.83,87.50 405.70,88.00 405.57,88.50 405.42,89.00 405.27,89.50 405.11,90.00 404.94,90.50 404.77,91.00 404.59,91.50 404.40,92.00 403.60,92.00 403.41,91.50 403.23,91.00 403.06,90.50 402.89,90.00 402.73,89.50 402.58,89.00 402.43,88.50 402.30,88.00 402.17,87.50 402.05,87.00 401.94,86.50 401.84,86.00 401.75,85.50 401.67,85.00 401.60,84.50 401.54,84.00 401.50,83.50 401.46,83.00 401.45,82.50 401.46,82.00 401.50,81.50 401.54,81.00 401.60,80.50 401.67,80.00 401.75,79.50 401.84,79.00 401.94,78.50 402.05,78.00 402.17,77.50 402.30,77.00 402.43,76.50 402.58,76.00 402.73,75.50 402.89,75.00 403.06,74.50 403.23,74.00 403.41,73.50 403.60,73.00" fill="#b7c596" stroke="#4d5538" stroke-width="0.75" stroke-linejoin="round"/>
<line x1="401.45" y1="82.50" x2="406.55" y2="82.50" stroke="#4d5538" stroke-width="0.8"/>
<line x1="402.16" y1="77.56" x2="405.84" y2="77.56" stroke="#4d5538" stroke-width="0.6" stroke-opacity="0.85" stroke-dasharray="1.2,0.5"/>
<line x1="402.16" y1="87.44" x2="405.84" y2="87.44" stroke="#4d5538" stroke-width="0.6" stroke-opacity="0.85" stroke-dasharray="1.2,0.5"/>
<line x1="422.50" y1="77.40" x2="422.50" y2="122.00" stroke="#3d3d3d" stroke-width="1.0"/>
<polygon points="422.88,85.90 423.09,86.40 423.28,86.90 423.46,87.40 423.64,87.90 423.80,88.40 423.96,88.90 424.11,89.40 424.25,89.90 424.37,90.40 424.49,90.90 424.60,91.40 424.69,91.90 424.78,92.40 424.85,92.90 424.90,93.40 424.94,93.90 424.96,94.40 424.95,94.90 424.92,95.40 424.87,95.90 424.81,96.40 424.73,96.90 424.64,97.40 424.54,97.90 424.42,98.40 424.30,98.90 424.17,99.40 424.02,99.90 423.87,100.40 423.71,100.90 423.53,101.40 423.35,101.90 423.16,102.40 422.97,102.90 422.89,103.40 422.86,103.90 422.83,104.40 422.17,104.40 422.14,103.90 422.11,103.40 422.03,102.90 421.84,102.40 421.65,101.90 421.47,101.40 421.29,100.90 421.13,100.40 420.98,99.90 420.83,99.40 420.70,98.90 420.58,98.40 420.46,97.90 420.36,97.40 420.27,96.90 420.19,96.40 420.13,95.90 420.08,95.40 420.05,94.90 420.04,94.40 420.06,93.90 420.10,93.40 420.15,92.90 420.22,92.40 420.31,91.90 420.40,91.40 420.51,90.90 420.63,90.40 420.75,89.90 420.89,89.40 421.04,88.90 421.20,88.40 421.36,87.90 421.54,87.40 421.72,86.90 421.91,86.40 422.12,85.90" fill="#f39a1c" stroke="#6a4208" stroke-width="0.75" stroke-linejoin="round"/>
<line x1="420.04" y1="94.50" x2="424.96" y2="94.50" stroke="#6a4208" stroke-width="0.8"/>
<line x1="420.65" y1="90.32" x2="424.35" y2="90.32" stroke="#6a4208" stroke-width="0.6" stroke-opacity="0.85" stroke-dasharray="1.2,0.5"/>
<line x1="420.65" y1="98.68" x2="424.35" y2="98.68" stroke="#6a4208" stroke-width="0.6" stroke-opacity="0.85" stroke-dasharray="1.2,0.5"/>
<line x1="433.30" y1="72.60" x2="433.30" y2="100.30" stroke="#3d3d3d" stroke-width="1.0"/>
<polygon points="433.65,83.60 433.92,84.10 434.18,84.60 434.42,85.10 434.65,85.60 434.85,86.10 435.04,86.60 435.21,87.10 435.37,87.60 435.50,88.10 435.61,88.60 435.69,89.10 435.75,89.60 435.76,90.10 435.73,90.60 435.66,91.10 435.56,91.60 435.45,92.10 435.31,92.60 435.15,93.10 434.97,93.60 434.77,94.10 434.56,94.60 434.33,95.10 434.08,95.60 433.81,96.10 432.79,96.10 432.52,95.60 432.27,95.10 432.04,94.60 431.83,94.10 431.63,93.60 431.45,93.10 431.29,92.60 431.15,92.10 431.04,91.60 430.94,91.10 430.87,90.60 430.84,90.10 430.85,89.60 430.91,89.10 430.99,88.60 431.10,88.10 431.23,87.60 431.39,87.10 431.56,86.60 431.75,86.10 431.95,85.60 432.18,85.10 432.42,84.60 432.68,84.10 432.95,83.60" fill="#34a9dd" stroke="#15506c" stroke-width="0.75" stroke-linejoin="round"/>
<line x1="430.84" y1="90.00" x2="435.76" y2="90.00" stroke="#15506c" stroke-width="0.8"/>
<line x1="431.20" y1="87.72" x2="435.40" y2="87.72" stroke="#15506c" stroke-width="0.6" stroke-opacity="0.85" stroke-dasharray="1.2,0.5"/>
<line x1="431.20" y1="92.28" x2="435.40" y2="92.28" stroke="#15506c" stroke-width="0.6" stroke-opacity="0.85" stroke-dasharray="1.2,0.5"/>
<line x1="444.40" y1="75.50" x2="444.40" y2="103.20" stroke="#3d3d3d" stroke-width="1.0"/>
<polygon points="444.92,83.00 445.16,83.50 445.39,84.00 445.60,84.50 445.80,85.00 445.99,85.50 446.17,86.00 446.32,86.50 446.47,87.00 446.60,87.50 446.71,88.00 446.80,88.50 446.88,89.00 446.93,89.50 446.95,90.00 446.93,90.50 446.88,91.00 446.80,91.50 446.71,92.00 446.60,92.50 446.47,93.00 446.32,93.50 446.17,94.00 445.99,94.50 445.80,95.00 445.60,95.50 445.39,96.00 445.16,96.50 444.92,97.00 443.88,97.00 443.64,96.50 443.41,96.00 443.20,95.50 443.00,95.00 442.81,94.50 442.63,94.00 442.48,93.50 442.33,93.00 442.20,92.50 442.09,92.00 442.00,91.50 441.92,91.00 441.87,90.50 441.85,90.00 441.87,89.50 441.92,89.00 442.00,88.50 442.09,88.00 442.20,87.50 442.33,87.00 442.48,86.50 442.63,86.00 442.81,85.50 443.00,85.00 443.20,84.50 443.41,84.00 443.64,83.50 443.88,83.00" fill="#e0157c" stroke="#650a36" stroke-width="0.75" stroke-linejoin="round"/>
<line x1="441.85" y1="90.00" x2="446.95" y2="90.00" stroke="#650a36" stroke-width="0.8"/>
<line x1="442.34" y1="86.96" x2="446.46" y2="86.96" stroke="#650a36" stroke-width="0.6" stroke-opacity="0.85" stroke-dasharray="1.2,0.5"/>
<line x1="442.34" y1="93.04" x2="446.46" y2="93.04" stroke="#650a36" stroke-width="0.6" stroke-opacity="0.85" stroke-dasharray="1.2,0.5"/>
<line x1="455.40" y1="67.80" x2="455.40" y2="105.10" stroke="#3d3d3d" stroke-width="1.0"/>
<polygon points="455.74,76.80 455.94,77.30 456.13,77.80 456.31,78.30 456.49,78.80 456.66,79.30 456.82,79.80 456.97,80.30 457.11,80.80 457.24,81.30 457.37,81.80 457.48,82.30 457.58,82.80 457.67,83.30 457.76,83.80 457.82,84.30 457.88,84.80 457.92,85.30 457.95,85.80 457.94,86.30 457.92,86.80 457.87,87.30 457.81,87.80 457.74,88.30 457.66,88.80 457.56,89.30 457.46,89.80 457.34,90.30 457.22,90.80 457.08,91.30 456.94,91.80 456.79,92.30 456.63,92.80 456.46,93.30 456.28,93.80 456.09,94.30 455.90,94.80 454.90,94.80 454.71,94.30 454.52,93.80 454.34,93.30 454.17,92.80 454.01,92.30 453.86,91.80 453.72,91.30 453.58,90.80 453.46,90.30 453.34,89.80 453.24,89.30 453.14,88.80 453.06,88.30 452.99,87.80 452.93,87.30 452.88,86.80 452.86,86.30 452.85,85.80 452.88,85.30 452.92,84.80 452.98,84.30 453.04,83.80 453.13,83.30 453.22,82.80 453.32,82.30 453.43,81.80 453.56,81.30 453.69,80.80 453.83,80.30 453.98,79.80 454.14,79.30 454.31,78.80 454.49,78.30 454.67,77.80 454.86,77.30 455.06,76.80" fill="#b7c596" stroke="#4d5538" stroke-width="0.75" stroke-linejoin="round"/>
<line x1="452.85" y1="86.00" x2="457.95" y2="86.00" stroke="#4d5538" stroke-width="0.8"/>
<line x1="453.52" y1="81.44" x2="457.28" y2="81.44" stroke="#4d5538" stroke-width="0.6" stroke-opacity="0.85" stroke-dasharray="1.2,0.5"/>
<line x1="453.52" y1="90.56" x2="457.28" y2="90.56" stroke="#4d5538" stroke-width="0.6" stroke-opacity="0.85" stroke-dasharray="1.2,0.5"/>
<line x1="474.50" y1="80.80" x2="474.50" y2="125.00" stroke="#3d3d3d" stroke-width="1.0"/>
<polygon points="474.88,87.80 475.11,88.30 475.32,88.80 475.52,89.30 475.72,89.80 475.90,90.30 476.06,90.80 476.22,91.30 476.37,91.80 476.50,92.30 476.61,92.80 476.72,93.30 476.81,93.80 476.88,94.30 476.93,94.80 476.96,95.30 476.96,95.80 476.92,96.30 476.86,96.80 476.79,97.30 476.70,97.80 476.59,98.30 476.47,98.80 476.34,99.30 476.19,99.80 476.03,100.30 475.86,100.80 475.68,101.30 475.48,101.80 475.28,102.30 475.06,102.80 475.01,103.30 474.97,103.80 474.94,104.30 474.90,104.80 474.87,105.30 474.84,105.80 474.82,106.30 474.18,106.30 474.16,105.80 474.13,105.30 474.10,104.80 474.06,104.30 474.03,103.80 473.99,103.30 473.94,102.80 473.72,102.30 473.52,101.80 473.32,101.30 473.14,100.80 472.97,100.30 472.81,99.80 472.66,99.30 472.53,98.80 472.41,98.30 472.30,97.80 472.21,97.30 472.14,96.80 472.08,96.30 472.04,95.80 472.04,95.30 472.07,94.80 472.12,94.30 472.19,93.80 472.28,93.30 472.39,92.80 472.50,92.30 472.63,91.80 472.78,91.30 472.94,90.80 473.10,90.30 473.28,89.80 473.48,89.30 473.68,88.80 473.89,88.30 474.12,87.80" fill="#f39a1c" stroke="#6a4208" stroke-width="0.75" stroke-linejoin="round"/>
<line x1="472.04" y1="95.50" x2="476.96" y2="95.50" stroke="#6a4208" stroke-width="0.8"/>
<line x1="472.56" y1="92.08" x2="476.44" y2="92.08" stroke="#6a4208" stroke-width="0.6" stroke-opacity="0.85" stroke-dasharray="1.2,0.5"/>
<line x1="472.56" y1="98.92" x2="476.44" y2="98.92" stroke="#6a4208" stroke-width="0.6" stroke-opacity="0.85" stroke-dasharray="1.2,0.5"/>
<line x1="485.20" y1="74.50" x2="485.20" y2="119.20" stroke="#3d3d3d" stroke-width="1.0"/>
<polygon points="485.53,86.00 485.58,86.50 485.63,87.00 485.86,87.50 486.16,88.00 486.43,88.50 486.68,89.00 486.89,89.50 487.08,90.00 487.24,90.50 487.37,91.00 487.46,91.50 487.50,92.00 487.46,92.50 487.37,93.00 487.24,93.50 487.08,94.00 486.89,94.50 486.68,95.00 486.43,95.50 486.16,96.00 485.91,96.50 485.86,97.00 485.81,97.50 485.77,98.00 485.73,98.50 485.69,99.00 485.65,99.50 485.61,100.00 485.58,100.50 485.55,101.00 485.52,101.50 484.88,101.50 484.85,101.00 484.82,100.50 484.79,100.00 484.75,99.50 484.71,99.00 484.67,98.50 484.63,98.00 484.59,97.50 484.54,97.00 484.49,96.50 484.24,96.00 483.97,95.50 483.72,95.00 483.51,94.50 483.32,94.00 483.16,93.50 483.03,93.00 482.94,92.50 482.90,92.00 482.94,91.50 483.03,91.00 483.16,90.50 483.32,90.00 483.51,89.50 483.72,89.00 483.97,88.50 484.24,88.00 484.54,87.50 484.77,87.00 484.82,86.50 484.87,86.00" fill="#34a9dd" stroke="#15506c" stroke-width="0.75" stroke-linejoin="round"/>
<line x1="482.90" y1="92.00" x2="487.50" y2="92.00" stroke="#15506c" stroke-width="0.8"/>
<line x1="483.32" y1="90.00" x2="487.08" y2="90.00" stroke="#15506c" stroke-width="0.6" stroke-opacity="0.85" stroke-dasharray="1.2,0.5"/>
<line x1="483.32" y1="94.00" x2="487.08" y2="94.00" stroke="#15506c" stroke-width="0.6" stroke-opacity="0.85" stroke-dasharray="1.2,0.5"/>
<line x1="496.10" y1="76.00" x2="496.10" y2="102.20" stroke="#3d3d3d" stroke-width="1.0"/>
<polygon points="496.62,83.00 496.86,83.50 497.09,84.00 497.30,84.50 497.50,85.00 497.69,85.50 497.87,86.00 498.02,86.50 498.17,87.00 498.30,87.50 498.41,88.00 498.50,88.50 498.58,89.00 498.63,89.50 498.65,90.00 498.63,90.50 498.58,91.00 498.50,91.50 498.41,92.00 498.30,92.50 498.17,93.00 498.02,93.50 497.87,94.00 497.69,94.50 497.50,95.00 497.30,95.50 497.09,96.00 496.86,96.50 496.62,97.00 495.58,97.00 495.34,96.50 495.11,96.00 494.90,95.50 494.70,95.00 494.51,94.50 494.33,94.00 494.18,93.50 494.03,93.00 493.90,92.50 493.79,92.00 493.70,91.50 493.62,91.00 493.57,90.50 493.55,90.00 493.57,89.50 493.62,89.00 493.70,88.50 493.79,88.00 493.90,87.50 494.03,87.00 494.18,86.50 494.33,86.00 494.51,85.50 494.70,85.00 494.90,84.50 495.11,84.00 495.34,83.50 495.58,83.00" fill="#e0157c" stroke="#650a36" stroke-width="0.75" stroke-linejoin="round"/>
<line x1="493.55" y1="90.00" x2="498.65" y2="90.00" stroke="#650a36" stroke-width="0.8"/>
<line x1="494.04" y1="86.96" x2="498.16" y2="86.96" stroke="#650a36" stroke-width="0.6" stroke-opacity="0.85" stroke-dasharray="1.2,0.5"/>
<line x1="494.04" y1="93.04" x2="498.16" y2="93.04" stroke="#650a36" stroke-width="0.6" stroke-opacity="0.85" stroke-dasharray="1.2,0.5"/>
<line x1="507.30" y1="70.20" x2="507.30" y2="106.60" stroke="#3d3d3d" stroke-width="1.0"/>
<polygon points="507.65,81.70 507.88,82.20 508.11,82.70 508.32,83.20 508.52,83.70 508.71,84.20 508.88,84.70 509.05,85.20 509.20,85.70 509.34,86.20 509.46,86.70 509.57,87.20 509.67,87.70 509.75,88.20 509.80,88.70 509.84,89.20 509.85,89.70 509.81,90.20 509.76,90.70 509.68,91.20 509.59,91.70 509.49,92.20 509.37,92.70 509.23,93.20 509.08,93.70 508.92,94.20 508.74,94.70 508.56,95.20 508.36,95.70 508.15,96.20 507.93,96.70 507.69,97.20 506.91,97.20 506.67,96.70 506.45,96.20 506.24,95.70 506.04,95.20 505.86,94.70 505.68,94.20 505.52,93.70 505.37,93.20 505.23,92.70 505.11,92.20 505.01,91.70 504.92,91.20 504.84,90.70 504.79,90.20 504.75,89.70 504.76,89.20 504.80,88.70 504.85,88.20 504.93,87.70 505.03,87.20 505.14,86.70 505.26,86.20 505.40,85.70 505.55,85.20 505.72,84.70 505.89,84.20 506.08,83.70 506.28,83.20 506.49,82.70 506.72,82.20 506.95,81.70" fill="#b7c596" stroke="#4d5538" stroke-width="0.75" stroke-linejoin="round"/>
<line x1="504.75" y1="89.50" x2="509.85" y2="89.50" stroke="#4d5538" stroke-width="0.8"/>
<line x1="505.29" y1="86.08" x2="509.31" y2="86.08" stroke="#4d5538" stroke-width="0.6" stroke-opacity="0.85" stroke-dasharray="1.2,0.5"/>
<line x1="505.29" y1="92.92" x2="509.31" y2="92.92" stroke="#4d5538" stroke-width="0.6" stroke-opacity="0.85" stroke-dasharray="1.2,0.5"/>
<line x1="47.50" y1="242.70" x2="47.50" y2="267.00" stroke="#3d3d3d" stroke-width="1.0"/>
<polygon points="47.82,245.70 48.03,246.20 48.24,246.70 48.43,247.20 48.61,247.70 48.78,248.20 48.94,248.70 49.09,249.20 49.22,249.70 49.34,250.20 49.44,250.70 49.53,251.20 49.61,251.70 49.67,252.20 49.70,252.70 49.71,253.20 49.67,253.70 49.62,254.20 49.55,254.70 49.46,255.20 49.36,255.70 49.24,256.20 49.11,256.70 48.97,257.20 48.82,257.70 48.65,258.20 48.47,258.70 48.28,259.20 48.08,259.70 47.86,260.20 47.14,260.20 46.92,259.70 46.72,259.20 46.53,258.70 46.35,258.20 46.18,257.70 46.03,257.20 45.89,256.70 45.76,256.20 45.64,255.70 45.54,255.20 45.45,254.70 45.38,254.20 45.33,253.70 45.29,253.20 45.30,252.70 45.33,252.20 45.39,251.70 45.47,251.20 45.56,250.70 45.66,250.20 45.78,249.70 45.91,249.20 46.06,248.70 46.22,248.20 46.39,247.70 46.57,247.20 46.76,246.70 46.97,246.20 47.18,245.70" fill="#f39a1c" stroke="#6a4208" stroke-width="0.75" stroke-linejoin="round"/>
<line x1="45.29" y1="253.00" x2="49.71" y2="253.00" stroke="#6a4208" stroke-width="0.8"/>
<line x1="45.72" y1="249.96" x2="49.28" y2="249.96" stroke="#6a4208" stroke-width="0.6" stroke-opacity="0.85" stroke-dasharray="1.2,0.5"/>
<line x1="45.72" y1="256.04" x2="49.28" y2="256.04" stroke="#6a4208" stroke-width="0.6" stroke-opacity="0.85" stroke-dasharray="1.2,0.5"/>
<line x1="58.50" y1="228.30" x2="58.50" y2="263.70" stroke="#3d3d3d" stroke-width="1.0"/>
<polygon points="58.82,240.80 59.01,241.30 59.20,241.80 59.38,242.30 59.54,242.80 59.71,243.30 59.86,243.80 60.01,244.30 60.15,244.80 60.28,245.30 60.40,245.80 60.51,246.30 60.62,246.80 60.71,247.30 60.80,247.80 60.87,248.30 60.93,248.80 60.99,249.30 61.02,249.80 61.05,250.30 61.04,250.80 61.02,251.30 60.98,251.80 60.92,252.30 60.86,252.80 60.78,253.30 60.69,253.80 60.60,254.30 60.49,254.80 60.38,255.30 60.25,255.80 60.12,256.30 59.98,256.80 59.83,257.30 59.68,257.80 59.51,258.30 59.34,258.80 59.16,259.30 58.98,259.80 58.02,259.80 57.84,259.30 57.66,258.80 57.49,258.30 57.32,257.80 57.17,257.30 57.02,256.80 56.88,256.30 56.75,255.80 56.62,255.30 56.51,254.80 56.40,254.30 56.31,253.80 56.22,253.30 56.14,252.80 56.08,252.30 56.02,251.80 55.98,251.30 55.96,250.80 55.95,250.30 55.98,249.80 56.01,249.30 56.07,248.80 56.13,248.30 56.20,247.80 56.29,247.30 56.38,246.80 56.49,246.30 56.60,245.80 56.72,245.30 56.85,244.80 56.99,244.30 57.14,243.80 57.29,243.30 57.46,242.80 57.62,242.30 57.80,241.80 57.99,241.30 58.18,240.80" fill="#34a9dd" stroke="#15506c" stroke-width="0.75" stroke-linejoin="round"/>
<line x1="55.95" y1="250.50" x2="61.05" y2="250.50" stroke="#15506c" stroke-width="0.8"/>
<line x1="56.66" y1="245.56" x2="60.34" y2="245.56" stroke="#15506c" stroke-width="0.6" stroke-opacity="0.85" stroke-dasharray="1.2,0.5"/>
<line x1="56.66" y1="255.44" x2="60.34" y2="255.44" stroke="#15506c" stroke-width="0.6" stroke-opacity="0.85" stroke-dasharray="1.2,0.5"/>
<line x1="69.40" y1="234.50" x2="69.40" y2="278.00" stroke="#3d3d3d" stroke-width="1.0"/>
<polygon points="69.72,247.50 69.92,248.00 70.16,248.50 70.40,249.00 70.62,249.50 70.82,250.00 71.02,250.50 71.20,251.00 71.36,251.50 71.52,252.00 71.66,252.50 71.78,253.00 71.89,253.50 71.98,254.00 72.05,254.50 72.10,255.00 72.12,255.50 72.10,256.00 72.05,256.50 71.98,257.00 71.89,257.50 71.78,258.00 71.66,258.50 71.52,259.00 71.36,259.50 71.20,260.00 71.02,260.50 70.82,261.00 70.62,261.50 70.40,262.00 70.16,262.50 69.92,263.00 69.77,263.50 69.73,264.00 69.07,264.00 69.03,263.50 68.88,263.00 68.64,262.50 68.40,262.00 68.18,261.50 67.98,261.00 67.78,260.50 67.60,260.00 67.44,259.50 67.28,259.00 67.14,258.50 67.02,258.00 66.91,257.50 66.82,257.00 66.75,256.50 66.70,256.00 66.68,255.50 66.70,255.00 66.75,254.50 66.82,254.00 66.91,253.50 67.02,253.00 67.14,252.50 67.28,252.00 67.44,251.50 67.60,251.00 67.78,250.50 67.98,250.00 68.18,249.50 68.40,249.00 68.64,248.50 68.88,248.00 69.08,247.50" fill="#e0157c" stroke="#650a36" stroke-width="0.75" stroke-linejoin="round"/>
<line x1="66.68" y1="255.50" x2="72.12" y2="255.50" stroke="#650a36" stroke-width="0.8"/>
<line x1="67.26" y1="252.08" x2="71.54" y2="252.08" stroke="#650a36" stroke-width="0.6" stroke-opacity="0.85" stroke-dasharray="1.2,0.5"/>
<line x1="67.26" y1="258.92" x2="71.54" y2="258.92" stroke="#650a36" stroke-width="0.6" stroke-opacity="0.85" stroke-dasharray="1.2,0.5"/>
<line x1="80.50" y1="233.50" x2="80.50" y2="267.00" stroke="#3d3d3d" stroke-width="1.0"/>
<polygon points="80.88,241.00 81.06,241.50 81.24,242.00 81.40,242.50 81.57,243.00 81.72,243.50 81.87,244.00 82.01,244.50 82.14,245.00 82.27,245.50 82.38,246.00 82.49,246.50 82.59,247.00 82.69,247.50 82.77,248.00 82.84,248.50 82.91,249.00 82.96,249.50 83.01,250.00 83.04,250.50 83.05,251.00 83.04,251.50 83.01,252.00 82.96,252.50 82.91,253.00 82.84,253.50 82.77,254.00 82.69,254.50 82.59,255.00 82.49,255.50 82.38,256.00 82.27,256.50 82.14,257.00 82.01,257.50 81.87,258.00 81.72,258.50 81.57,259.00 81.40,259.50 81.24,260.00 81.06,260.50 80.88,261.00 80.12,261.00 79.94,260.50 79.76,260.00 79.60,259.50 79.43,259.00 79.28,258.50 79.13,258.00 78.99,257.50 78.86,257.00 78.73,256.50 78.62,256.00 78.51,255.50 78.41,255.00 78.31,254.50 78.23,254.00 78.16,253.50 78.09,253.00 78.04,252.50 77.99,252.00 77.96,251.50 77.95,251.00 77.96,250.50 77.99,250.00 78.04,249.50 78.09,249.00 78.16,248.50 78.23,248.00 78.31,247.50 78.41,247.00 78.51,246.50 78.62,246.00 78.73,245.50 78.86,245.00 78.99,244.50 79.13,244.00 79.28,243.50 79.43,243.00 79.60,242.50 79.76,242.00 79.94,241.50 80.12,241.00" fill="#b7c596" stroke="#4d5538" stroke-width="0.75" stroke-linejoin="round"/>
<line x1="77.95" y1="251.00" x2="83.05" y2="251.00" stroke="#4d5538" stroke-width="0.8"/>
<line x1="78.69" y1="245.68" x2="82.31" y2="245.68" stroke="#4d5538" stroke-width="0.6" stroke-opacity="0.85" stroke-dasharray="1.2,0.5"/>
<line x1="78.69" y1="256.32" x2="82.31" y2="256.32" stroke="#4d5538" stroke-width="0.6" stroke-opacity="0.85" stroke-dasharray="1.2,0.5"/>
<line x1="98.80" y1="243.20" x2="98.80" y2="275.20" stroke="#3d3d3d" stroke-width="1.0"/>
<polygon points="99.26,251.20 99.44,251.70 99.61,252.20 99.78,252.70 99.94,253.20 100.09,253.70 100.23,254.20 100.37,254.70 100.49,255.20 100.61,255.70 100.72,256.20 100.83,256.70 100.92,257.20 101.00,257.70 101.08,258.20 101.14,258.70 101.19,259.20 101.23,259.70 101.26,260.20 101.26,260.70 101.24,261.20 101.20,261.70 101.15,262.20 101.09,262.70 101.02,263.20 100.94,263.70 100.85,264.20 100.75,264.70 100.64,265.20 100.52,265.70 100.39,266.20 100.26,266.70 100.12,267.20 99.97,267.70 99.81,268.20 99.65,268.70 99.47,269.20 99.30,269.70 99.11,270.20 98.49,270.20 98.30,269.70 98.13,269.20 97.95,268.70 97.79,268.20 97.63,267.70 97.48,267.20 97.34,266.70 97.21,266.20 97.08,265.70 96.96,265.20 96.85,264.70 96.75,264.20 96.66,263.70 96.58,263.20 96.51,262.70 96.45,262.20 96.40,261.70 96.36,261.20 96.34,260.70 96.34,260.20 96.37,259.70 96.41,259.20 96.46,258.70 96.52,258.20 96.60,257.70 96.68,257.20 96.77,256.70 96.88,256.20 96.99,255.70 97.11,255.20 97.23,254.70 97.37,254.20 97.51,253.70 97.66,253.20 97.82,252.70 97.99,252.20 98.16,251.70 98.34,251.20" fill="#f39a1c" stroke="#6a4208" stroke-width="0.75" stroke-linejoin="round"/>
<line x1="96.33" y1="260.50" x2="101.27" y2="260.50" stroke="#6a4208" stroke-width="0.8"/>
<line x1="97.02" y1="255.56" x2="100.58" y2="255.56" stroke="#6a4208" stroke-width="0.6" stroke-opacity="0.85" stroke-dasharray="1.2,0.5"/>
<line x1="97.02" y1="265.44" x2="100.58" y2="265.44" stroke="#6a4208" stroke-width="0.6" stroke-opacity="0.85" stroke-dasharray="1.2,0.5"/>
<line x1="109.90" y1="234.00" x2="109.90" y2="274.20" stroke="#3d3d3d" stroke-width="1.0"/>
<polygon points="110.21,249.00 110.25,249.50 110.36,250.00 110.57,250.50 110.77,251.00 110.96,251.50 111.14,252.00 111.31,252.50 111.47,253.00 111.62,253.50 111.75,254.00 111.87,254.50 111.98,255.00 112.08,255.50 112.16,256.00 112.22,256.50 112.26,257.00 112.28,257.50 112.26,258.00 112.22,258.50 112.16,259.00 112.08,259.50 111.98,260.00 111.87,260.50 111.75,261.00 111.62,261.50 111.47,262.00 111.31,262.50 111.14,263.00 110.96,263.50 110.77,264.00 110.57,264.50 110.36,265.00 109.44,265.00 109.23,264.50 109.03,264.00 108.84,263.50 108.66,263.00 108.49,262.50 108.33,262.00 108.18,261.50 108.05,261.00 107.93,260.50 107.82,260.00 107.72,259.50 107.64,259.00 107.58,258.50 107.54,258.00 107.52,257.50 107.54,257.00 107.58,256.50 107.64,256.00 107.72,255.50 107.82,255.00 107.93,254.50 108.05,254.00 108.18,253.50 108.33,253.00 108.49,252.50 108.66,252.00 108.84,251.50 109.03,251.00 109.23,250.50 109.44,250.00 109.55,249.50 109.59,249.00" fill="#34a9dd" stroke="#15506c" stroke-width="0.75" stroke-linejoin="round"/>
<line x1="107.52" y1="257.50" x2="112.28" y2="257.50" stroke="#15506c" stroke-width="0.8"/>
<line x1="108.03" y1="254.08" x2="111.77" y2="254.08" stroke="#15506c" stroke-width="0.6" stroke-opacity="0.85" stroke-dasharray="1.2,0.5"/>
<line x1="108.03" y1="260.92" x2="111.77" y2="260.92" stroke="#15506c" stroke-width="0.6" stroke-opacity="0.85" stroke-dasharray="1.2,0.5"/>
<line x1="120.70" y1="242.20" x2="120.70" y2="264.10" stroke="#3d3d3d" stroke-width="1.0"/>
<polygon points="121.19,248.20 121.38,248.70 121.56,249.20 121.73,249.70 121.90,250.20 122.05,250.70 122.20,251.20 122.33,251.70 122.46,252.20 122.58,252.70 122.69,253.20 122.78,253.70 122.87,254.20 122.94,254.70 123.00,255.20 123.04,255.70 123.07,256.20 123.08,256.70 123.05,257.20 123.01,257.70 122.95,258.20 122.88,258.70 122.80,259.20 122.71,259.70 122.60,260.20 122.49,260.70 122.36,261.20 122.23,261.70 122.08,262.20 121.93,262.70 121.77,263.20 121.59,263.70 119.81,263.70 119.63,263.20 119.47,262.70 119.32,262.20 119.17,261.70 119.04,261.20 118.91,260.70 118.80,260.20 118.69,259.70 118.60,259.20 118.52,258.70 118.45,258.20 118.39,257.70 118.35,257.20 118.32,256.70 118.33,256.20 118.36,255.70 118.40,255.20 118.46,254.70 118.53,254.20 118.62,253.70 118.71,253.20 118.82,252.70 118.94,252.20 119.07,251.70 119.20,251.20 119.35,250.70 119.50,250.20 119.67,249.70 119.84,249.20 120.02,248.70 120.21,248.20" fill="#e0157c" stroke="#650a36" stroke-width="0.75" stroke-linejoin="round"/>
<line x1="118.32" y1="256.50" x2="123.08" y2="256.50" stroke="#650a36" stroke-width="0.8"/>
<line x1="118.91" y1="252.32" x2="122.49" y2="252.32" stroke="#650a36" stroke-width="0.6" stroke-opacity="0.85" stroke-dasharray="1.2,0.5"/>
<line x1="118.91" y1="260.68" x2="122.49" y2="260.68" stroke="#650a36" stroke-width="0.6" stroke-opacity="0.85" stroke-dasharray="1.2,0.5"/>
<line x1="131.80" y1="233.50" x2="131.80" y2="268.50" stroke="#3d3d3d" stroke-width="1.0"/>
<polygon points="132.18,241.00 132.36,241.50 132.54,242.00 132.70,242.50 132.87,243.00 133.02,243.50 133.17,244.00 133.31,244.50 133.44,245.00 133.57,245.50 133.68,246.00 133.79,246.50 133.89,247.00 133.99,247.50 134.07,248.00 134.14,248.50 134.21,249.00 134.26,249.50 134.31,250.00 134.34,250.50 134.35,251.00 134.34,251.50 134.31,252.00 134.26,252.50 134.21,253.00 134.14,253.50 134.07,254.00 133.99,254.50 133.89,255.00 133.79,255.50 133.68,256.00 133.57,256.50 133.44,257.00 133.31,257.50 133.17,258.00 133.02,258.50 132.87,259.00 132.70,259.50 132.54,260.00 132.36,260.50 132.18,261.00 131.42,261.00 131.24,260.50 131.06,260.00 130.90,259.50 130.73,259.00 130.58,258.50 130.43,258.00 130.29,257.50 130.16,257.00 130.03,256.50 129.92,256.00 129.81,255.50 129.71,255.00 129.61,254.50 129.53,254.00 129.46,253.50 129.39,253.00 129.34,252.50 129.29,252.00 129.26,251.50 129.25,251.00 129.26,250.50 129.29,250.00 129.34,249.50 129.39,249.00 129.46,248.50 129.53,248.00 129.61,247.50 129.71,247.00 129.81,246.50 129.92,246.00 130.03,245.50 130.16,245.00 130.29,244.50 130.43,244.00 130.58,243.50 130.73,243.00 130.90,242.50 131.06,242.00 131.24,241.50 131.42,241.00" fill="#b7c596" stroke="#4d5538" stroke-width="0.75" stroke-linejoin="round"/>
<line x1="129.25" y1="251.00" x2="134.35" y2="251.00" stroke="#4d5538" stroke-width="0.8"/>
<line x1="129.99" y1="245.68" x2="133.61" y2="245.68" stroke="#4d5538" stroke-width="0.6" stroke-opacity="0.85" stroke-dasharray="1.2,0.5"/>
<line x1="129.99" y1="256.32" x2="133.61" y2="256.32" stroke="#4d5538" stroke-width="0.6" stroke-opacity="0.85" stroke-dasharray="1.2,0.5"/>
<line x1="150.30" y1="252.80" x2="150.30" y2="271.30" stroke="#3d3d3d" stroke-width="1.0"/>
<polygon points="150.74,254.80 151.00,255.30 151.24,255.80 151.46,256.30 151.66,256.80 151.85,257.30 152.01,257.80 152.16,258.30 152.28,258.80 152.38,259.30 152.46,259.80 152.50,260.30 152.50,260.80 152.45,261.30 152.37,261.80 152.26,262.30 152.13,262.80 151.98,263.30 151.81,263.80 151.62,264.30 151.42,264.80 151.19,265.30 150.95,265.80 150.69,266.30 149.91,266.30 149.65,265.80 149.41,265.30 149.18,264.80 148.98,264.30 148.79,263.80 148.62,263.30 148.47,262.80 148.34,262.30 148.23,261.80 148.15,261.30 148.10,260.80 148.10,260.30 148.14,259.80 148.22,259.30 148.32,258.80 148.44,258.30 148.59,257.80 148.75,257.30 148.94,256.80 149.14,256.30 149.36,255.80 149.60,255.30 149.86,254.80" fill="#f39a1c" stroke="#6a4208" stroke-width="0.75" stroke-linejoin="round"/>
<line x1="148.09" y1="260.50" x2="152.51" y2="260.50" stroke="#6a4208" stroke-width="0.8"/>
<line x1="148.39" y1="258.50" x2="152.21" y2="258.50" stroke="#6a4208" stroke-width="0.6" stroke-opacity="0.85" stroke-dasharray="1.2,0.5"/>
<line x1="148.39" y1="262.50" x2="152.21" y2="262.50" stroke="#6a4208" stroke-width="0.6" stroke-opacity="0.85" stroke-dasharray="1.2,0.5"/>
<line x1="161.40" y1="244.10" x2="161.40" y2="273.75" stroke="#3d3d3d" stroke-width="1.0"/>
<polygon points="161.86,252.10 162.06,252.60 162.25,253.10 162.42,253.60 162.59,254.10 162.74,254.60 162.89,255.10 163.02,255.60 163.14,256.10 163.25,256.60 163.35,257.10 163.44,257.60 163.51,258.10 163.56,258.60 163.60,259.10 163.61,259.60 163.59,260.10 163.54,260.60 163.48,261.10 163.40,261.60 163.31,262.10 163.21,262.60 163.10,263.10 162.97,263.60 162.83,264.10 162.68,264.60 162.52,265.10 162.35,265.60 162.17,266.10 161.98,266.60 161.78,267.10 161.02,267.10 160.82,266.60 160.63,266.10 160.45,265.60 160.28,265.10 160.12,264.60 159.97,264.10 159.83,263.60 159.70,263.10 159.59,262.60 159.49,262.10 159.40,261.60 159.32,261.10 159.26,260.60 159.21,260.10 159.19,259.60 159.20,259.10 159.24,258.60 159.29,258.10 159.36,257.60 159.45,257.10 159.55,256.60 159.66,256.10 159.78,255.60 159.91,255.10 160.06,254.60 160.21,254.10 160.38,253.60 160.55,253.10 160.74,252.60 160.94,252.10" fill="#34a9dd" stroke="#15506c" stroke-width="0.75" stroke-linejoin="round"/>
<line x1="159.19" y1="259.50" x2="163.61" y2="259.50" stroke="#15506c" stroke-width="0.8"/>
<line x1="159.66" y1="256.08" x2="163.14" y2="256.08" stroke="#15506c" stroke-width="0.6" stroke-opacity="0.85" stroke-dasharray="1.2,0.5"/>
<line x1="159.66" y1="262.92" x2="163.14" y2="262.92" stroke="#15506c" stroke-width="0.6" stroke-opacity="0.85" stroke-dasharray="1.2,0.5"/>
<line x1="172.40" y1="247.00" x2="172.40" y2="266.00" stroke="#3d3d3d" stroke-width="1.0"/>
<polygon points="172.95,253.00 173.20,253.50 173.44,254.00 173.66,254.50 173.86,255.00 174.05,255.50 174.22,256.00 174.37,256.50 174.50,257.00 174.61,257.50 174.69,258.00 174.75,258.50 174.78,259.00 174.75,259.50 174.69,260.00 174.61,260.50 174.50,261.00 174.37,261.50 174.22,262.00 174.05,262.50 173.86,263.00 173.66,263.50 173.44,264.00 173.20,264.50 172.95,265.00 171.85,265.00 171.60,264.50 171.36,264.00 171.14,263.50 170.94,263.00 170.75,262.50 170.58,262.00 170.43,261.50 170.30,261.00 170.19,260.50 170.11,260.00 170.05,259.50 170.02,259.00 170.05,258.50 170.11,258.00 170.19,257.50 170.30,257.00 170.43,256.50 170.58,256.00 170.75,255.50 170.94,255.00 171.14,254.50 171.36,254.00 171.60,253.50 171.85,253.00" fill="#e0157c" stroke="#650a36" stroke-width="0.75" stroke-linejoin="round"/>
<line x1="170.02" y1="259.00" x2="174.78" y2="259.00" stroke="#650a36" stroke-width="0.8"/>
<line x1="170.37" y1="256.72" x2="174.43" y2="256.72" stroke="#650a36" stroke-width="0.6" stroke-opacity="0.85" stroke-dasharray="1.2,0.5"/>
<line x1="170.37" y1="261.28" x2="174.43" y2="261.28" stroke="#650a36" stroke-width="0.6" stroke-opacity="0.85" stroke-dasharray="1.2,0.5"/>
<line x1="183.50" y1="237.40" x2="183.50" y2="272.80" stroke="#3d3d3d" stroke-width="1.0"/>
<polygon points="183.88,248.90 184.07,249.40 184.26,249.90 184.44,250.40 184.61,250.90 184.77,251.40 184.92,251.90 185.06,252.40 185.19,252.90 185.31,253.40 185.42,253.90 185.52,254.40 185.60,254.90 185.67,255.40 185.73,255.90 185.77,256.40 185.79,256.90 185.78,257.40 185.75,257.90 185.70,258.40 185.63,258.90 185.55,259.40 185.46,259.90 185.36,260.40 185.24,260.90 185.12,261.40 184.98,261.90 184.83,262.40 184.68,262.90 184.51,263.40 184.33,263.90 184.15,264.40 183.96,264.90 183.04,264.90 182.85,264.40 182.67,263.90 182.49,263.40 182.32,262.90 182.17,262.40 182.02,261.90 181.88,261.40 181.76,260.90 181.64,260.40 181.54,259.90 181.45,259.40 181.37,258.90 181.30,258.40 181.25,257.90 181.22,257.40 181.21,256.90 181.23,256.40 181.27,255.90 181.33,255.40 181.40,254.90 181.48,254.40 181.58,253.90 181.69,253.40 181.81,252.90 181.94,252.40 182.08,251.90 182.23,251.40 182.39,250.90 182.56,250.40 182.74,249.90 182.93,249.40 183.12,248.90" fill="#b7c596" stroke="#4d5538" stroke-width="0.75" stroke-linejoin="round"/>
<line x1="181.21" y1="257.00" x2="185.79" y2="257.00" stroke="#4d5538" stroke-width="0.8"/>
<line x1="181.73" y1="253.20" x2="185.27" y2="253.20" stroke="#4d5538" stroke-width="0.6" stroke-opacity="0.85" stroke-dasharray="1.2,0.5"/>
<line x1="181.73" y1="260.80" x2="185.27" y2="260.80" stroke="#4d5538" stroke-width="0.6" stroke-opacity="0.85" stroke-dasharray="1.2,0.5"/>
<line x1="202.00" y1="248.00" x2="202.00" y2="275.20" stroke="#3d3d3d" stroke-width="1.0"/>
<polygon points="202.33,259.50 202.59,260.00 202.86,260.50 203.11,261.00 203.35,261.50 203.57,262.00 203.77,262.50 203.95,263.00 204.11,263.50 204.25,264.00 204.36,264.50 204.46,265.00 204.52,265.50 204.55,266.00 204.52,266.50 204.46,267.00 204.36,267.50 204.25,268.00 204.11,268.50 203.95,269.00 203.77,269.50 203.57,270.00 203.35,270.50 203.11,271.00 202.86,271.50 202.59,272.00 202.30,272.50 201.70,272.50 201.41,272.00 201.14,271.50 200.89,271.00 200.65,270.50 200.43,270.00 200.23,269.50 200.05,269.00 199.89,268.50 199.75,268.00 199.64,267.50 199.54,267.00 199.48,266.50 199.45,266.00 199.48,265.50 199.54,265.00 199.64,264.50 199.75,264.00 199.89,263.50 200.05,263.00 200.23,262.50 200.43,262.00 200.65,261.50 200.89,261.00 201.14,260.50 201.41,260.00 201.67,259.50" fill="#f39a1c" stroke="#6a4208" stroke-width="0.75" stroke-linejoin="round"/>
<line x1="199.45" y1="266.00" x2="204.55" y2="266.00" stroke="#6a4208" stroke-width="0.8"/>
<line x1="199.83" y1="263.72" x2="204.17" y2="263.72" stroke="#6a4208" stroke-width="0.6" stroke-opacity="0.85" stroke-dasharray="1.2,0.5"/>
<line x1="199.83" y1="268.28" x2="204.17" y2="268.28" stroke="#6a4208" stroke-width="0.6" stroke-opacity="0.85" stroke-dasharray="1.2,0.5"/>
<line x1="213.20" y1="246.50" x2="213.20" y2="271.30" stroke="#3d3d3d" stroke-width="1.0"/>
<polygon points="213.57,250.00 213.74,250.50 213.91,251.00 214.07,251.50 214.22,252.00 214.37,252.50 214.52,253.00 214.65,253.50 214.78,254.00 214.91,254.50 215.02,255.00 215.13,255.50 215.23,256.00 215.33,256.50 215.41,257.00 215.49,257.50 215.56,258.00 215.62,258.50 215.67,259.00 215.71,259.50 215.74,260.00 215.75,260.50 215.74,261.00 215.71,261.50 215.67,262.00 215.62,262.50 215.56,263.00 215.49,263.50 215.41,264.00 215.33,264.50 215.23,265.00 215.13,265.50 215.02,266.00 214.91,266.50 214.78,267.00 214.65,267.50 214.52,268.00 214.37,268.50 214.22,269.00 214.07,269.50 213.91,270.00 213.74,270.50 213.57,271.00 212.83,271.00 212.66,270.50 212.49,270.00 212.33,269.50 212.18,269.00 212.03,268.50 211.88,268.00 211.75,267.50 211.62,267.00 211.49,266.50 211.38,266.00 211.27,265.50 211.17,265.00 211.07,264.50 210.99,264.00 210.91,263.50 210.84,263.00 210.78,262.50 210.73,262.00 210.69,261.50 210.66,261.00 210.65,260.50 210.66,260.00 210.69,259.50 210.73,259.00 210.78,258.50 210.84,258.00 210.91,257.50 210.99,257.00 211.07,256.50 211.17,256.00 211.27,255.50 211.38,255.00 211.49,254.50 211.62,254.00 211.75,253.50 211.88,253.00 212.03,252.50 212.18,252.00 212.33,251.50 212.49,251.00 212.66,250.50 212.83,250.00" fill="#34a9dd" stroke="#15506c" stroke-width="0.75" stroke-linejoin="round"/>
<line x1="210.65" y1="260.50" x2="215.75" y2="260.50" stroke="#15506c" stroke-width="0.8"/>
<line x1="211.42" y1="254.80" x2="214.98" y2="254.80" stroke="#15506c" stroke-width="0.6" stroke-opacity="0.85" stroke-dasharray="1.2,0.5"/>
<line x1="211.42" y1="266.20" x2="214.98" y2="266.20" stroke="#15506c" stroke-width="0.6" stroke-opacity="0.85" stroke-dasharray="1.2,0.5"/>
<line x1="224.20" y1="246.50" x2="224.20" y2="270.40" stroke="#3d3d3d" stroke-width="1.0"/>
<polygon points="224.66,251.00 224.88,251.50 225.09,252.00 225.28,252.50 225.47,253.00 225.65,253.50 225.81,254.00 225.97,254.50 226.11,255.00 226.24,255.50 226.36,256.00 226.46,256.50 226.55,257.00 226.63,257.50 226.69,258.00 226.73,258.50 226.75,259.00 226.73,259.50 226.69,260.00 226.63,260.50 226.55,261.00 226.46,261.50 226.36,262.00 226.24,262.50 226.11,263.00 225.97,263.50 225.81,264.00 225.65,264.50 225.47,265.00 225.28,265.50 225.09,266.00 224.88,266.50 224.66,267.00 223.74,267.00 223.52,266.50 223.31,266.00 223.12,265.50 222.93,265.00 222.75,264.50 222.59,264.00 222.43,263.50 222.29,263.00 222.16,262.50 222.04,262.00 221.94,261.50 221.85,261.00 221.77,260.50 221.71,260.00 221.67,259.50 221.65,259.00 221.67,258.50 221.71,258.00 221.77,257.50 221.85,257.00 221.94,256.50 222.04,256.00 222.16,255.50 222.29,255.00 222.43,254.50 222.59,254.00 222.75,253.50 222.93,253.00 223.12,252.50 223.31,252.00 223.52,251.50 223.74,251.00" fill="#e0157c" stroke="#650a36" stroke-width="0.75" stroke-linejoin="round"/>
<line x1="221.65" y1="259.00" x2="226.75" y2="259.00" stroke="#650a36" stroke-width="0.8"/>
<line x1="222.24" y1="255.20" x2="226.16" y2="255.20" stroke="#650a36" stroke-width="0.6" stroke-opacity="0.85" stroke-dasharray="1.2,0.5"/>
<line x1="222.24" y1="262.80" x2="226.16" y2="262.80" stroke="#650a36" stroke-width="0.6" stroke-opacity="0.85" stroke-dasharray="1.2,0.5"/>
<line x1="235.00" y1="235.00" x2="235.00" y2="273.30" stroke="#3d3d3d" stroke-width="1.0"/>
<polygon points="235.30,250.50 235.34,251.00 235.37,251.50 235.46,252.00 235.68,252.50 235.89,253.00 236.08,253.50 236.27,254.00 236.45,254.50 236.61,255.00 236.77,255.50 236.91,256.00 237.04,256.50 237.16,257.00 237.26,257.50 237.35,258.00 237.43,258.50 237.49,259.00 237.53,259.50 237.55,260.00 237.53,260.50 237.49,261.00 237.43,261.50 237.35,262.00 237.26,262.50 237.16,263.00 237.04,263.50 236.91,264.00 236.77,264.50 236.61,265.00 236.45,265.50 236.27,266.00 236.08,266.50 235.89,267.00 235.68,267.50 235.46,268.00 234.54,268.00 234.32,267.50 234.11,267.00 233.92,266.50 233.73,266.00 233.55,265.50 233.39,265.00 233.23,264.50 233.09,264.00 232.96,263.50 232.84,263.00 232.74,262.50 232.65,262.00 232.57,261.50 232.51,261.00 232.47,260.50 232.45,260.00 232.47,259.50 232.51,259.00 232.57,258.50 232.65,258.00 232.74,257.50 232.84,257.00 232.96,256.50 233.09,256.00 233.23,255.50 233.39,255.00 233.55,254.50 233.73,254.00 233.92,253.50 234.11,253.00 234.32,252.50 234.54,252.00 234.63,251.50 234.66,251.00 234.70,250.50" fill="#b7c596" stroke="#4d5538" stroke-width="0.75" stroke-linejoin="round"/>
<line x1="232.45" y1="260.00" x2="237.55" y2="260.00" stroke="#4d5538" stroke-width="0.8"/>
<line x1="233.04" y1="256.20" x2="236.96" y2="256.20" stroke="#4d5538" stroke-width="0.6" stroke-opacity="0.85" stroke-dasharray="1.2,0.5"/>
<line x1="233.04" y1="263.80" x2="236.96" y2="263.80" stroke="#4d5538" stroke-width="0.6" stroke-opacity="0.85" stroke-dasharray="1.2,0.5"/>
<line x1="319.60" y1="269.40" x2="319.60" y2="304.20" stroke="#3d3d3d" stroke-width="1.0"/>
<polygon points="320.00,275.90 320.21,276.40 320.41,276.90 320.60,277.40 320.78,277.90 320.95,278.40 321.11,278.90 321.26,279.40 321.41,279.90 321.54,280.40 321.66,280.90 321.77,281.40 321.87,281.90 321.95,282.40 322.03,282.90 322.08,283.40 322.13,283.90 322.15,284.40 322.14,284.90 322.10,285.40 322.05,285.90 321.98,286.40 321.90,286.90 321.81,287.40 321.71,287.90 321.59,288.40 321.46,288.90 321.32,289.40 321.17,289.90 321.02,290.40 320.85,290.90 320.67,291.40 320.48,291.90 320.29,292.40 320.08,292.90 319.12,292.90 318.91,292.40 318.72,291.90 318.53,291.40 318.35,290.90 318.18,290.40 318.03,289.90 317.88,289.40 317.74,288.90 317.61,288.40 317.49,287.90 317.39,287.40 317.30,286.90 317.22,286.40 317.15,285.90 317.10,285.40 317.06,284.90 317.05,284.40 317.07,283.90 317.12,283.40 317.17,282.90 317.25,282.40 317.33,281.90 317.43,281.40 317.54,280.90 317.66,280.40 317.79,279.90 317.94,279.40 318.09,278.90 318.25,278.40 318.42,277.90 318.60,277.40 318.79,276.90 318.99,276.40 319.20,275.90" fill="#f39a1c" stroke="#6a4208" stroke-width="0.75" stroke-linejoin="round"/>
<line x1="317.05" y1="284.50" x2="322.15" y2="284.50" stroke="#6a4208" stroke-width="0.8"/>
<line x1="317.68" y1="280.32" x2="321.52" y2="280.32" stroke="#6a4208" stroke-width="0.6" stroke-opacity="0.85" stroke-dasharray="1.2,0.5"/>
<line x1="317.68" y1="288.68" x2="321.52" y2="288.68" stroke="#6a4208" stroke-width="0.6" stroke-opacity="0.85" stroke-dasharray="1.2,0.5"/>
<line x1="330.50" y1="266.50" x2="330.50" y2="294.10" stroke="#3d3d3d" stroke-width="1.0"/>
<polygon points="330.92,274.00 331.12,274.50 331.31,275.00 331.49,275.50 331.66,276.00 331.82,276.50 331.98,277.00 332.13,277.50 332.27,278.00 332.39,278.50 332.51,279.00 332.62,279.50 332.72,280.00 332.81,280.50 332.88,281.00 332.95,281.50 333.00,282.00 333.03,282.50 333.05,283.00 333.03,283.50 333.00,284.00 332.95,284.50 332.88,285.00 332.81,285.50 332.72,286.00 332.62,286.50 332.51,287.00 332.39,287.50 332.27,288.00 332.13,288.50 331.98,289.00 331.82,289.50 331.66,290.00 331.49,290.50 331.31,291.00 331.12,291.50 330.92,292.00 330.08,292.00 329.88,291.50 329.69,291.00 329.51,290.50 329.34,290.00 329.18,289.50 329.02,289.00 328.87,288.50 328.73,288.00 328.61,287.50 328.49,287.00 328.38,286.50 328.28,286.00 328.19,285.50 328.12,285.00 328.05,284.50 328.00,284.00 327.97,283.50 327.95,283.00 327.97,282.50 328.00,282.00 328.05,281.50 328.12,281.00 328.19,280.50 328.28,280.00 328.38,279.50 328.49,279.00 328.61,278.50 328.73,278.00 328.87,277.50 329.02,277.00 329.18,276.50 329.34,276.00 329.51,275.50 329.69,275.00 329.88,274.50 330.08,274.00" fill="#34a9dd" stroke="#15506c" stroke-width="0.75" stroke-linejoin="round"/>
<line x1="327.95" y1="283.00" x2="333.05" y2="283.00" stroke="#15506c" stroke-width="0.8"/>
<line x1="328.62" y1="278.44" x2="332.38" y2="278.44" stroke="#15506c" stroke-width="0.6" stroke-opacity="0.85" stroke-dasharray="1.2,0.5"/>
<line x1="328.62" y1="287.56" x2="332.38" y2="287.56" stroke="#15506c" stroke-width="0.6" stroke-opacity="0.85" stroke-dasharray="1.2,0.5"/>
<line x1="341.90" y1="271.30" x2="341.90" y2="303.75" stroke="#3d3d3d" stroke-width="1.0"/>
<polygon points="342.36,279.30 342.53,279.80 342.69,280.30 342.84,280.80 342.99,281.30 343.14,281.80 343.27,282.30 343.41,282.80 343.53,283.30 343.65,283.80 343.76,284.30 343.86,284.80 343.96,285.30 344.05,285.80 344.13,286.30 344.21,286.80 344.27,287.30 344.33,287.80 344.38,288.30 344.41,288.80 344.44,289.30 344.45,289.80 344.44,290.30 344.41,290.80 344.37,291.30 344.32,291.80 344.26,292.30 344.19,292.80 344.12,293.30 344.03,293.80 343.94,294.30 343.84,294.80 343.74,295.30 343.62,295.80 343.51,296.30 343.38,296.80 343.25,297.30 343.11,297.80 342.96,298.30 342.81,298.80 342.66,299.30 342.49,299.80 342.33,300.30 341.47,300.30 341.31,299.80 341.14,299.30 340.99,298.80 340.84,298.30 340.69,297.80 340.55,297.30 340.42,296.80 340.29,296.30 340.18,295.80 340.06,295.30 339.96,294.80 339.86,294.30 339.77,293.80 339.68,293.30 339.61,292.80 339.54,292.30 339.48,291.80 339.43,291.30 339.39,290.80 339.36,290.30 339.35,289.80 339.36,289.30 339.39,288.80 339.42,288.30 339.47,287.80 339.53,287.30 339.59,286.80 339.67,286.30 339.75,285.80 339.84,285.30 339.94,284.80 340.04,284.30 340.15,283.80 340.27,283.30 340.39,282.80 340.53,282.30 340.66,281.80 340.81,281.30 340.96,280.80 341.11,280.30 341.27,279.80 341.44,279.30" fill="#e0157c" stroke="#650a36" stroke-width="0.75" stroke-linejoin="round"/>
<line x1="339.35" y1="289.75" x2="344.45" y2="289.75" stroke="#650a36" stroke-width="0.8"/>
<line x1="340.14" y1="283.86" x2="343.66" y2="283.86" stroke="#650a36" stroke-width="0.6" stroke-opacity="0.85" stroke-dasharray="1.2,0.5"/>
<line x1="340.14" y1="295.64" x2="343.66" y2="295.64" stroke="#650a36" stroke-width="0.6" stroke-opacity="0.85" stroke-dasharray="1.2,0.5"/>
<line x1="352.70" y1="258.40" x2="352.70" y2="301.30" stroke="#3d3d3d" stroke-width="1.0"/>
<polygon points="353.04,273.90 353.21,274.40 353.38,274.90 353.55,275.40 353.71,275.90 353.86,276.40 354.00,276.90 354.13,277.40 354.26,277.90 354.38,278.40 354.49,278.90 354.60,279.40 354.69,279.90 354.78,280.40 354.86,280.90 354.93,281.40 354.98,281.90 355.03,282.40 355.06,282.90 355.08,283.40 355.07,283.90 355.04,284.40 355.00,284.90 354.95,285.40 354.89,285.90 354.81,286.40 354.73,286.90 354.64,287.40 354.54,287.90 354.43,288.40 354.31,288.90 354.19,289.40 354.05,289.90 353.91,290.40 353.77,290.90 353.61,291.40 353.45,291.90 353.28,292.40 353.11,292.90 352.29,292.90 352.12,292.40 351.95,291.90 351.79,291.40 351.63,290.90 351.49,290.40 351.35,289.90 351.21,289.40 351.09,288.90 350.97,288.40 350.86,287.90 350.76,287.40 350.67,286.90 350.59,286.40 350.51,285.90 350.45,285.40 350.40,284.90 350.36,284.40 350.33,283.90 350.32,283.40 350.34,282.90 350.37,282.40 350.42,281.90 350.47,281.40 350.54,280.90 350.62,280.40 350.71,279.90 350.80,279.40 350.91,278.90 351.02,278.40 351.14,277.90 351.27,277.40 351.40,276.90 351.54,276.40 351.69,275.90 351.85,275.40 352.02,274.90 352.19,274.40 352.36,273.90" fill="#b7c596" stroke="#4d5538" stroke-width="0.75" stroke-linejoin="round"/>
<line x1="350.32" y1="283.50" x2="355.08" y2="283.50" stroke="#4d5538" stroke-width="0.8"/>
<line x1="350.98" y1="278.56" x2="354.42" y2="278.56" stroke="#4d5538" stroke-width="0.6" stroke-opacity="0.85" stroke-dasharray="1.2,0.5"/>
<line x1="350.98" y1="288.44" x2="354.42" y2="288.44" stroke="#4d5538" stroke-width="0.6" stroke-opacity="0.85" stroke-dasharray="1.2,0.5"/>
<line x1="371.30" y1="271.30" x2="371.30" y2="309.00" stroke="#3d3d3d" stroke-width="1.0"/>
<polygon points="371.76,279.30 371.92,279.80 372.08,280.30 372.24,280.80 372.38,281.30 372.52,281.80 372.66,282.30 372.78,282.80 372.90,283.30 373.01,283.80 373.12,284.30 373.22,284.80 373.31,285.30 373.39,285.80 373.46,286.30 373.53,286.80 373.58,287.30 373.62,287.80 373.66,288.30 373.68,288.80 373.67,289.30 373.65,289.80 373.62,290.30 373.57,290.80 373.51,291.30 373.45,291.80 373.37,292.30 373.29,292.80 373.20,293.30 373.10,293.80 372.99,294.30 372.88,294.80 372.76,295.30 372.63,295.80 372.49,296.30 372.35,296.80 372.21,297.30 372.05,297.80 371.89,298.30 371.72,298.80 370.88,298.80 370.71,298.30 370.55,297.80 370.39,297.30 370.25,296.80 370.11,296.30 369.97,295.80 369.84,295.30 369.72,294.80 369.61,294.30 369.50,293.80 369.40,293.30 369.31,292.80 369.23,292.30 369.15,291.80 369.09,291.30 369.03,290.80 368.98,290.30 368.95,289.80 368.93,289.30 368.92,288.80 368.94,288.30 368.98,287.80 369.02,287.30 369.07,286.80 369.14,286.30 369.21,285.80 369.29,285.30 369.38,284.80 369.48,284.30 369.59,283.80 369.70,283.30 369.82,282.80 369.94,282.30 370.08,281.80 370.22,281.30 370.36,280.80 370.52,280.30 370.68,279.80 370.84,279.30" fill="#f39a1c" stroke="#6a4208" stroke-width="0.75" stroke-linejoin="round"/>
<line x1="368.92" y1="289.00" x2="373.68" y2="289.00" stroke="#6a4208" stroke-width="0.8"/>
<line x1="369.61" y1="283.68" x2="372.99" y2="283.68" stroke="#6a4208" stroke-width="0.6" stroke-opacity="0.85" stroke-dasharray="1.2,0.5"/>
<line x1="369.61" y1="294.32" x2="372.99" y2="294.32" stroke="#6a4208" stroke-width="0.6" stroke-opacity="0.85" stroke-dasharray="1.2,0.5"/>
<line x1="382.30" y1="267.50" x2="382.30" y2="300.40" stroke="#3d3d3d" stroke-width="1.0"/>
<polygon points="382.71,278.00 382.90,278.50 383.09,279.00 383.26,279.50 383.43,280.00 383.59,280.50 383.74,281.00 383.88,281.50 384.01,282.00 384.13,282.50 384.24,283.00 384.34,283.50 384.43,284.00 384.51,284.50 384.58,285.00 384.63,285.50 384.66,286.00 384.68,286.50 384.66,287.00 384.63,287.50 384.58,288.00 384.51,288.50 384.43,289.00 384.34,289.50 384.24,290.00 384.13,290.50 384.01,291.00 383.88,291.50 383.74,292.00 383.59,292.50 383.43,293.00 383.26,293.50 383.09,294.00 382.90,294.50 382.71,295.00 381.89,295.00 381.70,294.50 381.51,294.00 381.34,293.50 381.17,293.00 381.01,292.50 380.86,292.00 380.72,291.50 380.59,291.00 380.47,290.50 380.36,290.00 380.26,289.50 380.17,289.00 380.09,288.50 380.02,288.00 379.97,287.50 379.94,287.00 379.92,286.50 379.94,286.00 379.97,285.50 380.02,285.00 380.09,284.50 380.17,284.00 380.26,283.50 380.36,283.00 380.47,282.50 380.59,282.00 380.72,281.50 380.86,281.00 381.01,280.50 381.17,280.00 381.34,279.50 381.51,279.00 381.70,278.50 381.89,278.00" fill="#34a9dd" stroke="#15506c" stroke-width="0.75" stroke-linejoin="round"/>
<line x1="379.92" y1="286.50" x2="384.68" y2="286.50" stroke="#15506c" stroke-width="0.8"/>
<line x1="380.51" y1="282.32" x2="384.09" y2="282.32" stroke="#15506c" stroke-width="0.6" stroke-opacity="0.85" stroke-dasharray="1.2,0.5"/>
<line x1="380.51" y1="290.68" x2="384.09" y2="290.68" stroke="#15506c" stroke-width="0.6" stroke-opacity="0.85" stroke-dasharray="1.2,0.5"/>
<line x1="393.10" y1="274.70" x2="393.10" y2="305.70" stroke="#3d3d3d" stroke-width="1.0"/>
<polygon points="393.41,280.70 393.62,281.20 393.83,281.70 394.02,282.20 394.21,282.70 394.38,283.20 394.55,283.70 394.70,284.20 394.85,284.70 394.99,285.20 395.11,285.70 395.23,286.20 395.33,286.70 395.42,287.20 395.50,287.70 395.56,288.20 395.61,288.70 395.64,289.20 395.65,289.70 395.62,290.20 395.57,290.70 395.51,291.20 395.44,291.70 395.35,292.20 395.25,292.70 395.14,293.20 395.01,293.70 394.88,294.20 394.73,294.70 394.58,295.20 394.42,295.70 394.24,296.20 394.06,296.70 393.87,297.20 393.66,297.70 393.45,298.20 392.75,298.20 392.54,297.70 392.33,297.20 392.14,296.70 391.96,296.20 391.78,295.70 391.62,295.20 391.47,294.70 391.32,294.20 391.19,293.70 391.06,293.20 390.95,292.70 390.85,292.20 390.76,291.70 390.69,291.20 390.63,290.70 390.58,290.20 390.55,289.70 390.56,289.20 390.59,288.70 390.64,288.20 390.70,287.70 390.78,287.20 390.87,286.70 390.97,286.20 391.09,285.70 391.21,285.20 391.35,284.70 391.50,284.20 391.65,283.70 391.82,283.20 391.99,282.70 392.18,282.20 392.37,281.70 392.58,281.20 392.79,280.70" fill="#e0157c" stroke="#650a36" stroke-width="0.75" stroke-linejoin="round"/>
<line x1="390.55" y1="289.50" x2="395.65" y2="289.50" stroke="#650a36" stroke-width="0.8"/>
<line x1="391.18" y1="285.32" x2="395.02" y2="285.32" stroke="#650a36" stroke-width="0.6" stroke-opacity="0.85" stroke-dasharray="1.2,0.5"/>
<line x1="391.18" y1="293.68" x2="395.02" y2="293.68" stroke="#650a36" stroke-width="0.6" stroke-opacity="0.85" stroke-dasharray="1.2,0.5"/>
<line x1="404.30" y1="261.25" x2="404.30" y2="302.80" stroke="#3d3d3d" stroke-width="1.0"/>
<polygon points="404.62,273.75 404.83,274.25 405.02,274.75 405.21,275.25 405.40,275.75 405.57,276.25 405.74,276.75 405.89,277.25 406.04,277.75 406.18,278.25 406.31,278.75 406.44,279.25 406.55,279.75 406.65,280.25 406.74,280.75 406.82,281.25 406.89,281.75 406.95,282.25 406.99,282.75 407.02,283.25 407.02,283.75 406.99,284.25 406.95,284.75 406.89,285.25 406.82,285.75 406.74,286.25 406.65,286.75 406.55,287.25 406.44,287.75 406.31,288.25 406.18,288.75 406.04,289.25 405.89,289.75 405.74,290.25 405.57,290.75 405.40,291.25 405.21,291.75 405.02,292.25 404.83,292.75 404.62,293.25 403.98,293.25 403.77,292.75 403.58,292.25 403.39,291.75 403.20,291.25 403.03,290.75 402.86,290.25 402.71,289.75 402.56,289.25 402.42,288.75 402.29,288.25 402.16,287.75 402.05,287.25 401.95,286.75 401.86,286.25 401.78,285.75 401.71,285.25 401.65,284.75 401.61,284.25 401.58,283.75 401.58,283.25 401.61,282.75 401.65,282.25 401.71,281.75 401.78,281.25 401.86,280.75 401.95,280.25 402.05,279.75 402.16,279.25 402.29,278.75 402.42,278.25 402.56,277.75 402.71,277.25 402.86,276.75 403.03,276.25 403.20,275.75 403.39,275.25 403.58,274.75 403.77,274.25 403.98,273.75" fill="#b7c596" stroke="#4d5538" stroke-width="0.75" stroke-linejoin="round"/>
<line x1="401.58" y1="283.50" x2="407.02" y2="283.50" stroke="#4d5538" stroke-width="0.8"/>
<line x1="402.33" y1="278.56" x2="406.27" y2="278.56" stroke="#4d5538" stroke-width="0.6" stroke-opacity="0.85" stroke-dasharray="1.2,0.5"/>
<line x1="402.33" y1="288.44" x2="406.27" y2="288.44" stroke="#4d5538" stroke-width="0.6" stroke-opacity="0.85" stroke-dasharray="1.2,0.5"/>
<line x1="422.70" y1="276.20" x2="422.70" y2="310.50" stroke="#3d3d3d" stroke-width="1.0"/>
<polygon points="423.03,284.70 423.25,285.20 423.46,285.70 423.67,286.20 423.86,286.70 424.04,287.20 424.21,287.70 424.37,288.20 424.52,288.70 424.66,289.20 424.79,289.70 424.90,290.20 425.00,290.70 425.08,291.20 425.15,291.70 425.21,292.20 425.24,292.70 425.25,293.20 425.22,293.70 425.17,294.20 425.10,294.70 425.02,295.20 424.92,295.70 424.81,296.20 424.69,296.70 424.55,297.20 424.40,297.70 424.25,298.20 424.08,298.70 423.90,299.20 423.71,299.70 423.51,300.20 423.29,300.70 423.07,301.20 422.33,301.20 422.11,300.70 421.89,300.20 421.69,299.70 421.50,299.20 421.32,298.70 421.15,298.20 421.00,297.70 420.85,297.20 420.71,296.70 420.59,296.20 420.48,295.70 420.38,295.20 420.30,294.70 420.23,294.20 420.18,293.70 420.15,293.20 420.16,292.70 420.19,292.20 420.25,291.70 420.32,291.20 420.40,290.70 420.50,290.20 420.61,289.70 420.74,289.20 420.88,288.70 421.03,288.20 421.19,287.70 421.36,287.20 421.54,286.70 421.73,286.20 421.94,285.70 422.15,285.20 422.37,284.70" fill="#f39a1c" stroke="#6a4208" stroke-width="0.75" stroke-linejoin="round"/>
<line x1="420.15" y1="293.00" x2="425.25" y2="293.00" stroke="#6a4208" stroke-width="0.8"/>
<line x1="420.74" y1="289.20" x2="424.66" y2="289.20" stroke="#6a4208" stroke-width="0.6" stroke-opacity="0.85" stroke-dasharray="1.2,0.5"/>
<line x1="420.74" y1="296.80" x2="424.66" y2="296.80" stroke="#6a4208" stroke-width="0.6" stroke-opacity="0.85" stroke-dasharray="1.2,0.5"/>
<line x1="433.50" y1="275.70" x2="433.50" y2="300.40" stroke="#3d3d3d" stroke-width="1.0"/>
<polygon points="433.99,278.20 434.18,278.70 434.36,279.20 434.53,279.70 434.70,280.20 434.85,280.70 435.00,281.20 435.13,281.70 435.26,282.20 435.38,282.70 435.49,283.20 435.58,283.70 435.67,284.20 435.74,284.70 435.80,285.20 435.84,285.70 435.87,286.20 435.88,286.70 435.85,287.20 435.81,287.70 435.75,288.20 435.68,288.70 435.60,289.20 435.51,289.70 435.40,290.20 435.29,290.70 435.16,291.20 435.03,291.70 434.88,292.20 434.73,292.70 434.57,293.20 434.39,293.70 434.21,294.20 434.03,294.70 433.83,295.20 433.17,295.20 432.97,294.70 432.79,294.20 432.61,293.70 432.43,293.20 432.27,292.70 432.12,292.20 431.97,291.70 431.84,291.20 431.71,290.70 431.60,290.20 431.49,289.70 431.40,289.20 431.32,288.70 431.25,288.20 431.19,287.70 431.15,287.20 431.12,286.70 431.13,286.20 431.16,285.70 431.20,285.20 431.26,284.70 431.33,284.20 431.42,283.70 431.51,283.20 431.62,282.70 431.74,282.20 431.87,281.70 432.00,281.20 432.15,280.70 432.30,280.20 432.47,279.70 432.64,279.20 432.82,278.70 433.01,278.20" fill="#34a9dd" stroke="#15506c" stroke-width="0.75" stroke-linejoin="round"/>
<line x1="431.12" y1="286.50" x2="435.88" y2="286.50" stroke="#15506c" stroke-width="0.8"/>
<line x1="431.71" y1="282.32" x2="435.29" y2="282.32" stroke="#15506c" stroke-width="0.6" stroke-opacity="0.85" stroke-dasharray="1.2,0.5"/>
<line x1="431.71" y1="290.68" x2="435.29" y2="290.68" stroke="#15506c" stroke-width="0.6" stroke-opacity="0.85" stroke-dasharray="1.2,0.5"/>
<line x1="444.70" y1="277.00" x2="444.70" y2="309.00" stroke="#3d3d3d" stroke-width="1.0"/>
<polygon points="445.05,284.00 445.22,284.50 445.38,285.00 445.54,285.50 445.69,286.00 445.83,286.50 445.97,287.00 446.10,287.50 446.23,288.00 446.35,288.50 446.47,289.00 446.57,289.50 446.67,290.00 446.77,290.50 446.86,291.00 446.94,291.50 447.01,292.00 447.07,292.50 447.13,293.00 447.18,293.50 447.21,294.00 447.24,294.50 447.25,295.00 447.24,295.50 447.21,296.00 447.18,296.50 447.13,297.00 447.07,297.50 447.01,298.00 446.94,298.50 446.86,299.00 446.77,299.50 446.67,300.00 446.57,300.50 446.47,301.00 446.35,301.50 446.23,302.00 446.10,302.50 445.97,303.00 445.83,303.50 445.69,304.00 445.54,304.50 445.38,305.00 445.22,305.50 445.05,306.00 444.35,306.00 444.18,305.50 444.02,305.00 443.86,304.50 443.71,304.00 443.57,303.50 443.43,303.00 443.30,302.50 443.17,302.00 443.05,301.50 442.93,301.00 442.83,300.50 442.73,300.00 442.63,299.50 442.54,299.00 442.46,298.50 442.39,298.00 442.33,297.50 442.27,297.00 442.22,296.50 442.19,296.00 442.16,295.50 442.15,295.00 442.16,294.50 442.19,294.00 442.22,293.50 442.27,293.00 442.33,292.50 442.39,292.00 442.46,291.50 442.54,291.00 442.63,290.50 442.73,290.00 442.83,289.50 442.93,289.00 443.05,288.50 443.17,288.00 443.30,287.50 443.43,287.00 443.57,286.50 443.71,286.00 443.86,285.50 444.02,285.00 444.18,284.50 444.35,284.00" fill="#e0157c" stroke="#650a36" stroke-width="0.75" stroke-linejoin="round"/>
<line x1="442.15" y1="295.00" x2="447.25" y2="295.00" stroke="#650a36" stroke-width="0.8"/>
<line x1="442.95" y1="288.92" x2="446.45" y2="288.92" stroke="#650a36" stroke-width="0.6" stroke-opacity="0.85" stroke-dasharray="1.2,0.5"/>
<line x1="442.95" y1="301.08" x2="446.45" y2="301.08" stroke="#650a36" stroke-width="0.6" stroke-opacity="0.85" stroke-dasharray="1.2,0.5"/>
<line x1="455.60" y1="269.40" x2="455.60" y2="305.20" stroke="#3d3d3d" stroke-width="1.0"/>
<polygon points="455.98,276.90 456.18,277.40 456.37,277.90 456.55,278.40 456.73,278.90 456.89,279.40 457.05,279.90 457.20,280.40 457.34,280.90 457.47,281.40 457.59,281.90 457.70,282.40 457.80,282.90 457.89,283.40 457.97,283.90 458.04,284.40 458.09,284.90 458.13,285.40 458.15,285.90 458.14,286.40 458.11,286.90 458.06,287.40 458.00,287.90 457.92,288.40 457.84,288.90 457.74,289.40 457.64,289.90 457.52,290.40 457.39,290.90 457.26,291.40 457.11,291.90 456.96,292.40 456.79,292.90 456.62,293.40 456.44,293.90 456.25,294.40 456.06,294.90 455.14,294.90 454.95,294.40 454.76,293.90 454.58,293.40 454.41,292.90 454.24,292.40 454.09,291.90 453.94,291.40 453.81,290.90 453.68,290.40 453.56,289.90 453.46,289.40 453.36,288.90 453.28,288.40 453.20,287.90 453.14,287.40 453.09,286.90 453.06,286.40 453.05,285.90 453.07,285.40 453.11,284.90 453.16,284.40 453.23,283.90 453.31,283.40 453.40,282.90 453.50,282.40 453.61,281.90 453.73,281.40 453.86,280.90 454.00,280.40 454.15,279.90 454.31,279.40 454.47,278.90 454.65,278.40 454.83,277.90 455.02,277.40 455.22,276.90" fill="#b7c596" stroke="#4d5538" stroke-width="0.75" stroke-linejoin="round"/>
<line x1="453.05" y1="286.00" x2="458.15" y2="286.00" stroke="#4d5538" stroke-width="0.8"/>
<line x1="453.72" y1="281.44" x2="457.48" y2="281.44" stroke="#4d5538" stroke-width="0.6" stroke-opacity="0.85" stroke-dasharray="1.2,0.5"/>
<line x1="453.72" y1="290.56" x2="457.48" y2="290.56" stroke="#4d5538" stroke-width="0.6" stroke-opacity="0.85" stroke-dasharray="1.2,0.5"/>
<line x1="474.50" y1="281.00" x2="474.50" y2="311.00" stroke="#3d3d3d" stroke-width="1.0"/>
<polygon points="474.94,289.00 475.15,289.50 475.34,290.00 475.53,290.50 475.71,291.00 475.88,291.50 476.04,292.00 476.19,292.50 476.33,293.00 476.46,293.50 476.58,294.00 476.69,294.50 476.79,295.00 476.87,295.50 476.94,296.00 476.99,296.50 477.03,297.00 477.05,297.50 477.03,298.00 476.99,298.50 476.94,299.00 476.87,299.50 476.79,300.00 476.69,300.50 476.58,301.00 476.46,301.50 476.33,302.00 476.19,302.50 476.04,303.00 475.88,303.50 475.71,304.00 475.53,304.50 475.34,305.00 475.15,305.50 474.94,306.00 474.06,306.00 473.85,305.50 473.66,305.00 473.47,304.50 473.29,304.00 473.12,303.50 472.96,303.00 472.81,302.50 472.67,302.00 472.54,301.50 472.42,301.00 472.31,300.50 472.21,300.00 472.13,299.50 472.06,299.00 472.01,298.50 471.97,298.00 471.95,297.50 471.97,297.00 472.01,296.50 472.06,296.00 472.13,295.50 472.21,295.00 472.31,294.50 472.42,294.00 472.54,293.50 472.67,293.00 472.81,292.50 472.96,292.00 473.12,291.50 473.29,291.00 473.47,290.50 473.66,290.00 473.85,289.50 474.06,289.00" fill="#f39a1c" stroke="#6a4208" stroke-width="0.75" stroke-linejoin="round"/>
<line x1="471.95" y1="297.50" x2="477.05" y2="297.50" stroke="#6a4208" stroke-width="0.8"/>
<line x1="472.58" y1="293.32" x2="476.42" y2="293.32" stroke="#6a4208" stroke-width="0.6" stroke-opacity="0.85" stroke-dasharray="1.2,0.5"/>
<line x1="472.58" y1="301.68" x2="476.42" y2="301.68" stroke="#6a4208" stroke-width="0.6" stroke-opacity="0.85" stroke-dasharray="1.2,0.5"/>
<line x1="485.20" y1="277.00" x2="485.20" y2="301.30" stroke="#3d3d3d" stroke-width="1.0"/>
<polygon points="485.53,284.50 485.84,285.00 486.12,285.50 486.39,286.00 486.62,286.50 486.84,287.00 487.03,287.50 487.19,288.00 487.32,288.50 487.42,289.00 487.48,289.50 487.48,290.00 487.42,290.50 487.32,291.00 487.19,291.50 487.03,292.00 486.84,292.50 486.62,293.00 486.39,293.50 486.12,294.00 485.84,294.50 485.53,295.00 484.87,295.00 484.56,294.50 484.28,294.00 484.01,293.50 483.78,293.00 483.56,292.50 483.37,292.00 483.21,291.50 483.08,291.00 482.98,290.50 482.92,290.00 482.92,289.50 482.98,289.00 483.08,288.50 483.21,288.00 483.37,287.50 483.56,287.00 483.78,286.50 484.01,286.00 484.28,285.50 484.56,285.00 484.87,284.50" fill="#34a9dd" stroke="#15506c" stroke-width="0.75" stroke-linejoin="round"/>
<line x1="482.90" y1="289.75" x2="487.50" y2="289.75" stroke="#15506c" stroke-width="0.8"/>
<line x1="483.29" y1="287.75" x2="487.11" y2="287.75" stroke="#15506c" stroke-width="0.6" stroke-opacity="0.85" stroke-dasharray="1.2,0.5"/>
<line x1="483.29" y1="291.75" x2="487.11" y2="291.75" stroke="#15506c" stroke-width="0.6" stroke-opacity="0.85" stroke-dasharray="1.2,0.5"/>
<line x1="496.10" y1="265.60" x2="496.10" y2="310.50" stroke="#3d3d3d" stroke-width="1.0"/>
<polygon points="496.47,282.10 496.63,282.60 496.78,283.10 496.93,283.60 497.08,284.10 497.22,284.60 497.35,285.10 497.48,285.60 497.61,286.10 497.72,286.60 497.84,287.10 497.95,287.60 498.05,288.10 498.14,288.60 498.23,289.10 498.32,289.60 498.39,290.10 498.47,290.60 498.53,291.10 498.59,291.60 498.63,292.10 498.68,292.60 498.71,293.10 498.73,293.60 498.73,294.10 498.72,294.60 498.70,295.10 498.66,295.60 498.62,296.10 498.56,296.60 498.50,297.10 498.44,297.60 498.36,298.10 498.28,298.60 498.20,299.10 498.11,299.60 498.01,300.10 497.90,300.60 497.79,301.10 497.68,301.60 497.56,302.10 497.43,302.60 497.30,303.10 497.16,303.60 497.02,304.10 496.87,304.60 496.72,305.10 496.56,305.60 496.40,306.10 495.80,306.10 495.64,305.60 495.48,305.10 495.33,304.60 495.18,304.10 495.04,303.60 494.90,303.10 494.77,302.60 494.64,302.10 494.52,301.60 494.41,301.10 494.30,300.60 494.19,300.10 494.09,299.60 494.00,299.10 493.92,298.60 493.84,298.10 493.76,297.60 493.70,297.10 493.64,296.60 493.58,296.10 493.54,295.60 493.50,295.10 493.48,294.60 493.47,294.10 493.47,293.60 493.49,293.10 493.52,292.60 493.57,292.10 493.61,291.60 493.67,291.10 493.73,290.60 493.81,290.10 493.88,289.60 493.97,289.10 494.06,288.60 494.15,288.10 494.25,287.60 494.36,287.10 494.48,286.60 494.59,286.10 494.72,285.60 494.85,285.10 494.98,284.60 495.12,284.10 495.27,283.60 495.42,283.10 495.57,282.60 495.73,282.10" fill="#e0157c" stroke="#650a36" stroke-width="0.75" stroke-linejoin="round"/>
<line x1="493.47" y1="294.00" x2="498.74" y2="294.00" stroke="#650a36" stroke-width="0.8"/>
<line x1="494.35" y1="287.16" x2="497.85" y2="287.16" stroke="#650a36" stroke-width="0.6" stroke-opacity="0.85" stroke-dasharray="1.2,0.5"/>
<line x1="494.35" y1="300.84" x2="497.85" y2="300.84" stroke="#650a36" stroke-width="0.6" stroke-opacity="0.85" stroke-dasharray="1.2,0.5"/>
<line x1="507.30" y1="274.20" x2="507.30" y2="306.60" stroke="#3d3d3d" stroke-width="1.0"/>
<polygon points="507.76,277.20 507.95,277.70 508.12,278.20 508.29,278.70 508.46,279.20 508.61,279.70 508.76,280.20 508.91,280.70 509.04,281.20 509.17,281.70 509.29,282.20 509.40,282.70 509.51,283.20 509.61,283.70 509.69,284.20 509.77,284.70 509.84,285.20 509.90,285.70 509.95,286.20 509.99,286.70 510.01,287.20 510.02,287.70 510.00,288.20 509.96,288.70 509.91,289.20 509.86,289.70 509.79,290.20 509.71,290.70 509.62,291.20 509.53,291.70 509.43,292.20 509.31,292.70 509.20,293.20 509.07,293.70 508.93,294.20 508.79,294.70 508.64,295.20 508.49,295.70 508.33,296.20 508.16,296.70 507.98,297.20 507.80,297.70 507.61,298.20 506.99,298.20 506.80,297.70 506.62,297.20 506.44,296.70 506.27,296.20 506.11,295.70 505.96,295.20 505.81,294.70 505.67,294.20 505.53,293.70 505.40,293.20 505.29,292.70 505.17,292.20 505.07,291.70 504.98,291.20 504.89,290.70 504.81,290.20 504.74,289.70 504.69,289.20 504.64,288.70 504.60,288.20 504.58,287.70 504.59,287.20 504.61,286.70 504.65,286.20 504.70,285.70 504.76,285.20 504.83,284.70 504.91,284.20 504.99,283.70 505.09,283.20 505.20,282.70 505.31,282.20 505.43,281.70 505.56,281.20 505.69,280.70 505.84,280.20 505.99,279.70 506.14,279.20 506.31,278.70 506.48,278.20 506.65,277.70 506.84,277.20" fill="#b7c596" stroke="#4d5538" stroke-width="0.75" stroke-linejoin="round"/>
<line x1="504.58" y1="287.50" x2="510.02" y2="287.50" stroke="#4d5538" stroke-width="0.8"/>
<line x1="505.40" y1="281.80" x2="509.20" y2="281.80" stroke="#4d5538" stroke-width="0.6" stroke-opacity="0.85" stroke-dasharray="1.2,0.5"/>
<line x1="505.40" y1="293.20" x2="509.20" y2="293.20" stroke="#4d5538" stroke-width="0.6" stroke-opacity="0.85" stroke-dasharray="1.2,0.5"/>
<rect x="71.75" y="174.95" width="8.80" height="5.40" fill="#c8102e" stroke="#5a0a14" stroke-width="0.7"/>
<text x="84.00" y="180.50" font-size="8.3" fill="#333" style="stroke-width:0.08px" textLength="26.00" lengthAdjust="spacingAndGlyphs">U-RBCs</text>
<rect x="116.35" y="174.95" width="8.10" height="5.40" fill="#9494cc" stroke="#44446e" stroke-width="0.7"/>
<text x="127.50" y="180.50" font-size="8.3" fill="#333" style="stroke-width:0.08px" textLength="25.50" lengthAdjust="spacingAndGlyphs">Y-RBCs</text>
<rect x="159.35" y="174.95" width="8.80" height="5.40" fill="#3fae3f" stroke="#1d5a1d" stroke-width="0.7"/>
<text x="170.80" y="180.50" font-size="8.3" fill="#333" style="stroke-width:0.08px" textLength="27.60" lengthAdjust="spacingAndGlyphs">O-RBCs</text>
<text x="340.70" y="180.50" font-size="8.3" fill="#333" style="stroke-width:0.08px" textLength="26.30" lengthAdjust="spacingAndGlyphs">U-RBCs</text>
<rect x="372.75" y="174.95" width="8.70" height="5.40" fill="#f39a1c" stroke="#6a4208" stroke-width="0.7"/>
<text x="385.00" y="180.50" font-size="8.3" fill="#333" style="stroke-width:0.08px" textLength="9.20" lengthAdjust="spacingAndGlyphs">TM</text>
<rect x="400.65" y="174.95" width="8.70" height="5.40" fill="#34a9dd" stroke="#15506c" stroke-width="0.7"/>
<text x="412.80" y="180.50" font-size="8.3" fill="#333" style="stroke-width:0.08px" textLength="7.40" lengthAdjust="spacingAndGlyphs">TF</text>
<rect x="426.15" y="174.95" width="8.80" height="5.40" fill="#e0157c" stroke="#650a36" stroke-width="0.7"/>
<text x="437.70" y="180.50" font-size="8.3" fill="#333" style="stroke-width:0.08px" textLength="11.40" lengthAdjust="spacingAndGlyphs">SM</text>
<rect x="454.45" y="174.95" width="9.20" height="5.40" fill="#b7c596" stroke="#4d5538" stroke-width="0.7"/>
<text x="466.60" y="180.50" font-size="8.3" fill="#333" style="stroke-width:0.08px" textLength="9.40" lengthAdjust="spacingAndGlyphs">SF</text>
<text x="68.50" y="360.50" font-size="8.3" fill="#333" style="stroke-width:0.08px" textLength="26.30" lengthAdjust="spacingAndGlyphs">Y-RBCs</text>
<rect x="100.55" y="354.95" width="8.70" height="5.40" fill="#f39a1c" stroke="#6a4208" stroke-width="0.7"/>
<text x="112.80" y="360.50" font-size="8.3" fill="#333" style="stroke-width:0.08px" textLength="9.20" lengthAdjust="spacingAndGlyphs">TM</text>
<rect x="128.45" y="354.95" width="8.70" height="5.40" fill="#34a9dd" stroke="#15506c" stroke-width="0.7"/>
<text x="140.60" y="360.50" font-size="8.3" fill="#333" style="stroke-width:0.08px" textLength="7.40" lengthAdjust="spacingAndGlyphs">TF</text>
<rect x="153.95" y="354.95" width="8.80" height="5.40" fill="#e0157c" stroke="#650a36" stroke-width="0.7"/>
<text x="165.50" y="360.50" font-size="8.3" fill="#333" style="stroke-width:0.08px" textLength="11.40" lengthAdjust="spacingAndGlyphs">SM</text>
<rect x="182.25" y="354.95" width="9.20" height="5.40" fill="#b7c596" stroke="#4d5538" stroke-width="0.7"/>
<text x="194.40" y="360.50" font-size="8.3" fill="#333" style="stroke-width:0.08px" textLength="9.40" lengthAdjust="spacingAndGlyphs">SF</text>
<text x="340.70" y="360.50" font-size="8.3" fill="#333" style="stroke-width:0.08px" textLength="26.30" lengthAdjust="spacingAndGlyphs">O-RBCs</text>
<rect x="372.75" y="354.95" width="8.70" height="5.40" fill="#f39a1c" stroke="#6a4208" stroke-width="0.7"/>
<text x="385.00" y="360.50" font-size="8.3" fill="#333" style="stroke-width:0.08px" textLength="9.20" lengthAdjust="spacingAndGlyphs">TM</text>
<rect x="400.65" y="354.95" width="8.70" height="5.40" fill="#34a9dd" stroke="#15506c" stroke-width="0.7"/>
<text x="412.80" y="360.50" font-size="8.3" fill="#333" style="stroke-width:0.08px" textLength="7.40" lengthAdjust="spacingAndGlyphs">TF</text>
<rect x="426.15" y="354.95" width="8.80" height="5.40" fill="#e0157c" stroke="#650a36" stroke-width="0.7"/>
<text x="437.70" y="360.50" font-size="8.3" fill="#333" style="stroke-width:0.08px" textLength="11.40" lengthAdjust="spacingAndGlyphs">SM</text>
<rect x="454.45" y="354.95" width="9.20" height="5.40" fill="#b7c596" stroke="#4d5538" stroke-width="0.7"/>
<text x="466.60" y="360.50" font-size="8.3" fill="#333" style="stroke-width:0.08px" textLength="9.40" lengthAdjust="spacingAndGlyphs">SF</text>
<rect x="0.5" y="0.5" width="519" height="367" fill="none" stroke="#5c5c5c" stroke-width="1"/>
</svg></body></html>
